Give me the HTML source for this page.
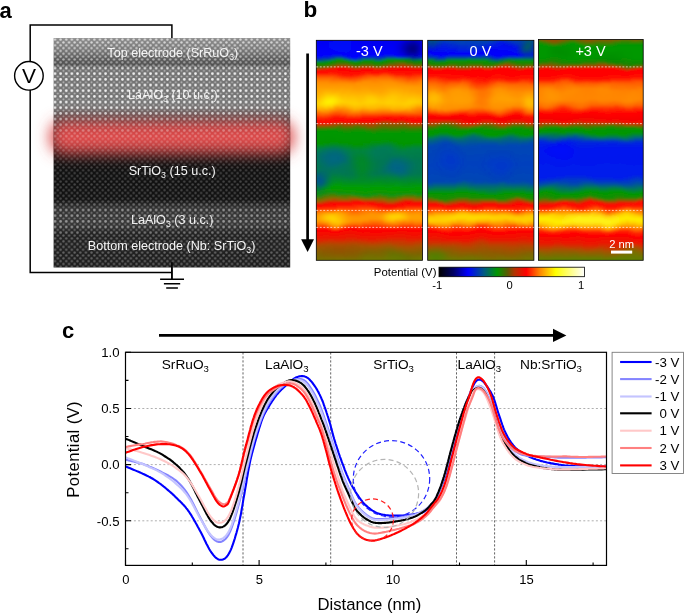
<!DOCTYPE html>
<html><head><meta charset="utf-8"><title>figure</title>
<style>
html,body{margin:0;padding:0;background:#fff;}
body{width:685px;height:615px;overflow:hidden;}
svg{display:block;font-family:"Liberation Sans",sans-serif;will-change:transform;}
</style></head><body>
<svg width="685" height="615" viewBox="0 0 685 615">
<defs>
<pattern id="dots" x="53.6" y="38.2" width="5.62" height="5.68" patternUnits="userSpaceOnUse">
  <circle cx="1.4" cy="1.4" r="1.35" fill="#fff"/>
  <circle cx="4.21" cy="4.24" r="1.0" fill="#fff" fill-opacity="0.55"/>
</pattern>
<pattern id="dots2" x="53.6" y="38.2" width="5.62" height="5.68" patternUnits="userSpaceOnUse">
  <circle cx="1.4" cy="1.4" r="1.2" fill="#fff"/>
  <circle cx="4.21" cy="4.24" r="1.2" fill="#fff"/>
</pattern>
<filter id="b1" x="-5%" y="-5%" width="110%" height="110%"><feGaussianBlur stdDeviation="0.7"/></filter>
<filter id="glow" x="-20%" y="-60%" width="140%" height="220%"><feGaussianBlur stdDeviation="7.5"/></filter>
<linearGradient id="tembg" x1="0" y1="38" x2="0" y2="268" gradientUnits="userSpaceOnUse">
  <stop offset="0" stop-color="#8e8e8e"/>
  <stop offset="0.05" stop-color="#787878"/>
  <stop offset="0.09" stop-color="#5c5c5c"/>
  <stop offset="0.115" stop-color="#505050"/>
  <stop offset="0.14" stop-color="#737373"/>
  <stop offset="0.30" stop-color="#767676"/>
  <stop offset="0.36" stop-color="#4a4444"/>
  <stop offset="0.50" stop-color="#1c1212"/>
  <stop offset="0.55" stop-color="#101010"/>
  <stop offset="0.70" stop-color="#121212"/>
  <stop offset="0.735" stop-color="#303030"/>
  <stop offset="0.80" stop-color="#3a3a3a"/>
  <stop offset="0.85" stop-color="#222222"/>
  <stop offset="1" stop-color="#1e1e1e"/>
</linearGradient>
<linearGradient id="dotmask" x1="0" y1="38" x2="0" y2="268" gradientUnits="userSpaceOnUse">
  <stop offset="0" stop-color="#fff" stop-opacity="0.0"/>
  <stop offset="0.115" stop-color="#fff" stop-opacity="0.0"/>
  <stop offset="0.135" stop-color="#fff" stop-opacity="0.9"/>
  <stop offset="0.30" stop-color="#fff" stop-opacity="0.9"/>
  <stop offset="0.35" stop-color="#fff" stop-opacity="0.55"/>
  <stop offset="0.40" stop-color="#fff" stop-opacity="0.2"/>
  <stop offset="0.46" stop-color="#fff" stop-opacity="0.0"/>
  <stop offset="0.71" stop-color="#fff" stop-opacity="0.0"/>
  <stop offset="0.745" stop-color="#fff" stop-opacity="0.42"/>
  <stop offset="0.83" stop-color="#fff" stop-opacity="0.42"/>
  <stop offset="0.865" stop-color="#fff" stop-opacity="0.0"/>
  <stop offset="1" stop-color="#fff" stop-opacity="0.0"/>
</linearGradient>
<linearGradient id="dotmask2" x1="0" y1="38" x2="0" y2="268" gradientUnits="userSpaceOnUse">
  <stop offset="0" stop-color="#fff" stop-opacity="0.7"/>
  <stop offset="0.09" stop-color="#fff" stop-opacity="0.55"/>
  <stop offset="0.125" stop-color="#fff" stop-opacity="0.35"/>
  <stop offset="0.14" stop-color="#fff" stop-opacity="0"/>
  <stop offset="0.33" stop-color="#fff" stop-opacity="0"/>
  <stop offset="0.42" stop-color="#fff" stop-opacity="0.22"/>
  <stop offset="0.55" stop-color="#fff" stop-opacity="0.21"/>
  <stop offset="0.71" stop-color="#fff" stop-opacity="0.24"/>
  <stop offset="0.745" stop-color="#fff" stop-opacity="0.12"/>
  <stop offset="0.83" stop-color="#fff" stop-opacity="0.12"/>
  <stop offset="0.865" stop-color="#fff" stop-opacity="0.32"/>
  <stop offset="1" stop-color="#fff" stop-opacity="0.30"/>
</linearGradient>
<mask id="mk1" maskUnits="userSpaceOnUse" x="53" y="37" width="238" height="232"><rect x="53" y="37" width="238" height="232" fill="url(#dotmask)"/></mask>
<mask id="mk2" maskUnits="userSpaceOnUse" x="53" y="37" width="238" height="232"><rect x="53" y="37" width="238" height="232" fill="url(#dotmask2)"/></mask>
<linearGradient id="cbar" x1="0" y1="0" x2="1" y2="0">
  <stop offset="0" stop-color="#000000"/>
  <stop offset="0.10" stop-color="#000064"/>
  <stop offset="0.20" stop-color="#0000ff"/>
  <stop offset="0.31" stop-color="#005a82"/>
  <stop offset="0.40" stop-color="#009600"/>
  <stop offset="0.47" stop-color="#5a5a00"/>
  <stop offset="0.52" stop-color="#b43200"/>
  <stop offset="0.60" stop-color="#ff0000"/>
  <stop offset="0.69" stop-color="#ff8200"/>
  <stop offset="0.80" stop-color="#ffff00"/>
  <stop offset="1" stop-color="#ffffff"/>
</linearGradient>

<linearGradient id="g1" x1="0" y1="40" x2="0" y2="260" gradientUnits="userSpaceOnUse"><stop offset="0.0000" stop-color="#0000f0"/><stop offset="0.0727" stop-color="#0000ff"/><stop offset="0.0841" stop-color="#004696"/><stop offset="0.0932" stop-color="#009800"/><stop offset="0.1068" stop-color="#1e8200"/><stop offset="0.1218" stop-color="#965000"/><stop offset="0.1332" stop-color="#ff0000"/><stop offset="0.1523" stop-color="#ff1400"/><stop offset="0.1682" stop-color="#ff5a00"/><stop offset="0.1909" stop-color="#ff8c00"/><stop offset="0.2273" stop-color="#ffa500"/><stop offset="0.2591" stop-color="#ffb900"/><stop offset="0.2864" stop-color="#ffc800"/><stop offset="0.3091" stop-color="#ffaa00"/><stop offset="0.3318" stop-color="#ff6400"/><stop offset="0.3523" stop-color="#ff1400"/><stop offset="0.3727" stop-color="#ff0000"/><stop offset="0.3841" stop-color="#aa4600"/><stop offset="0.4000" stop-color="#467800"/><stop offset="0.4136" stop-color="#009800"/><stop offset="0.4682" stop-color="#009600"/><stop offset="0.5000" stop-color="#008246"/><stop offset="0.5455" stop-color="#007850"/><stop offset="0.6091" stop-color="#007850"/><stop offset="0.6455" stop-color="#008c28"/><stop offset="0.6727" stop-color="#00a000"/><stop offset="0.7045" stop-color="#14910a"/><stop offset="0.7250" stop-color="#966400"/><stop offset="0.7409" stop-color="#ff0000"/><stop offset="0.7636" stop-color="#ff3200"/><stop offset="0.7818" stop-color="#ff7800"/><stop offset="0.8000" stop-color="#ff9600"/><stop offset="0.8227" stop-color="#ff9600"/><stop offset="0.8409" stop-color="#ff6400"/><stop offset="0.8591" stop-color="#ff0000"/><stop offset="0.9000" stop-color="#e61e00"/><stop offset="0.9364" stop-color="#aa5000"/><stop offset="0.9727" stop-color="#7d6400"/><stop offset="1.0000" stop-color="#6e7800"/></linearGradient>
<linearGradient id="g2" x1="0" y1="40" x2="0" y2="260" gradientUnits="userSpaceOnUse"><stop offset="0.0000" stop-color="#003cb4"/><stop offset="0.0227" stop-color="#0014e6"/><stop offset="0.0682" stop-color="#0000ff"/><stop offset="0.0818" stop-color="#00508c"/><stop offset="0.0932" stop-color="#009800"/><stop offset="0.1091" stop-color="#1e8200"/><stop offset="0.1218" stop-color="#965000"/><stop offset="0.1332" stop-color="#ff0000"/><stop offset="0.1727" stop-color="#ff0a00"/><stop offset="0.2000" stop-color="#ff6400"/><stop offset="0.2364" stop-color="#ff8c00"/><stop offset="0.2727" stop-color="#ff9b00"/><stop offset="0.3091" stop-color="#ff8c00"/><stop offset="0.3273" stop-color="#ff5000"/><stop offset="0.3455" stop-color="#ff0000"/><stop offset="0.3727" stop-color="#f00a00"/><stop offset="0.3841" stop-color="#aa4600"/><stop offset="0.3955" stop-color="#3c7800"/><stop offset="0.4068" stop-color="#009800"/><stop offset="0.4273" stop-color="#009600"/><stop offset="0.4455" stop-color="#006e6e"/><stop offset="0.4773" stop-color="#0046b4"/><stop offset="0.5682" stop-color="#0041be"/><stop offset="0.6455" stop-color="#0046b4"/><stop offset="0.6727" stop-color="#00785a"/><stop offset="0.6955" stop-color="#009800"/><stop offset="0.7205" stop-color="#1e8c00"/><stop offset="0.7341" stop-color="#aa4600"/><stop offset="0.7455" stop-color="#ff0000"/><stop offset="0.7682" stop-color="#ff3200"/><stop offset="0.7818" stop-color="#ff8200"/><stop offset="0.8000" stop-color="#ffc800"/><stop offset="0.8182" stop-color="#ffd200"/><stop offset="0.8364" stop-color="#ffa000"/><stop offset="0.8523" stop-color="#ff3c00"/><stop offset="0.8682" stop-color="#ff0000"/><stop offset="0.9045" stop-color="#f01400"/><stop offset="0.9364" stop-color="#b44600"/><stop offset="0.9727" stop-color="#826400"/><stop offset="1.0000" stop-color="#6e7800"/></linearGradient>
<linearGradient id="g3" x1="0" y1="39" x2="0" y2="260" gradientUnits="userSpaceOnUse"><stop offset="0.0000" stop-color="#965000"/><stop offset="0.0181" stop-color="#1e8c00"/><stop offset="0.0317" stop-color="#009800"/><stop offset="0.0860" stop-color="#009800"/><stop offset="0.1109" stop-color="#1e8200"/><stop offset="0.1258" stop-color="#965000"/><stop offset="0.1380" stop-color="#ff0000"/><stop offset="0.1765" stop-color="#ff0a00"/><stop offset="0.1991" stop-color="#ff5a00"/><stop offset="0.2308" stop-color="#ff8200"/><stop offset="0.2760" stop-color="#ff8700"/><stop offset="0.3032" stop-color="#ff6400"/><stop offset="0.3213" stop-color="#ff2800"/><stop offset="0.3394" stop-color="#ff0000"/><stop offset="0.3733" stop-color="#f00a00"/><stop offset="0.3846" stop-color="#aa4600"/><stop offset="0.3959" stop-color="#3c7800"/><stop offset="0.4072" stop-color="#009800"/><stop offset="0.4253" stop-color="#009600"/><stop offset="0.4434" stop-color="#006e6e"/><stop offset="0.4661" stop-color="#0028dc"/><stop offset="0.5023" stop-color="#0014f0"/><stop offset="0.6199" stop-color="#001eeb"/><stop offset="0.6516" stop-color="#0046b4"/><stop offset="0.6742" stop-color="#00785a"/><stop offset="0.6946" stop-color="#009800"/><stop offset="0.7195" stop-color="#1e8c00"/><stop offset="0.7330" stop-color="#aa4600"/><stop offset="0.7443" stop-color="#ff0000"/><stop offset="0.7647" stop-color="#ff1e00"/><stop offset="0.7805" stop-color="#ff7800"/><stop offset="0.7986" stop-color="#ffd200"/><stop offset="0.8190" stop-color="#fff000"/><stop offset="0.8371" stop-color="#ffd200"/><stop offset="0.8552" stop-color="#ff8c00"/><stop offset="0.8733" stop-color="#ff1e00"/><stop offset="0.8914" stop-color="#ff0000"/><stop offset="0.9276" stop-color="#e61e00"/><stop offset="0.9548" stop-color="#aa5000"/><stop offset="0.9819" stop-color="#786e00"/><stop offset="1.0000" stop-color="#5a8200"/></linearGradient>
<filter id="wav" x="0" y="0" width="100%" height="100%" filterUnits="objectBoundingBox">
<feTurbulence type="fractalNoise" baseFrequency="0.055 0.07" numOctaves="1" seed="3" result="n"/>
<feDisplacementMap in="SourceGraphic" in2="n" scale="8" xChannelSelector="R" yChannelSelector="G" result="d"/><feGaussianBlur in="d" stdDeviation="0.9"/>
</filter>
<filter id="bl4" x="-50%" y="-50%" width="200%" height="200%"><feGaussianBlur stdDeviation="4"/></filter>
<filter id="bl6" x="-50%" y="-50%" width="200%" height="200%"><feGaussianBlur stdDeviation="6"/></filter>
<clipPath id="c1"><rect x="316.3" y="40.3" width="106.2" height="220"/></clipPath>
<clipPath id="c2"><rect x="427.7" y="40.3" width="106.2" height="220"/></clipPath>
<clipPath id="c3"><rect x="538.4" y="39.4" width="104.8" height="220.9"/></clipPath>
<clipPath id="cplot"><rect x="125.5" y="352.3" width="481" height="213.1"/></clipPath>
<clipPath id="ctem"><rect x="53.6" y="38.0" width="236.6" height="229.6"/></clipPath>
</defs>
<rect x="0" y="0" width="685" height="615" fill="#fff"/>
<path d="M171.9 40 V25 H30.2 V272.6 H171.9 M171.9 262 V279.2" fill="none" stroke="#000" stroke-width="1.5"/>
<path d="M160.1 279.2 H184 M163.9 283.8 H180.2 M166.2 287.9 H177.9" fill="none" stroke="#000" stroke-width="1.5"/>
<rect x="50" y="121" width="244" height="32" rx="13" fill="#dc4a4a" filter="url(#glow)"/>
<g clip-path="url(#ctem)">
<rect x="53" y="37" width="238" height="232" fill="url(#tembg)"/>
<rect x="50" y="121" width="244" height="32" rx="13" fill="#dc4a4a" filter="url(#glow)"/>
<g filter="url(#b1)"><rect x="50" y="34" width="244" height="238" fill="url(#dots)" mask="url(#mk1)"/>
<rect x="50" y="34" width="244" height="238" fill="url(#dots2)" mask="url(#mk2)"/></g>
</g>
<path d="M53.6 66.2 H290.2" stroke="#fff" stroke-width="0.8" stroke-dasharray="2 2" stroke-opacity="0.45" fill="none"/>
<path d="M171.9 262.3 V279.2" fill="none" stroke="#000" stroke-width="1.5"/>
<circle cx="28.9" cy="75.8" r="14.3" fill="#fff" stroke="#000" stroke-width="1.4"/>
<text x="28.9" y="83.3" font-size="21" text-anchor="middle" fill="#000">V</text>
<text x="172.8" y="57.1" font-size="12.6" text-anchor="middle" fill="#fff" fill-opacity="0.9">Top electrode (SrRuO<tspan font-size="8.82" dy="2.898">3</tspan><tspan dy="-2.898">)</tspan></text>
<text x="172.8" y="98.7" font-size="12.6" text-anchor="middle" fill="#fff" fill-opacity="0.85">LaAlO<tspan font-size="8.82" dy="2.898">3</tspan><tspan dy="-2.898"> (10 u.c.)</tspan></text>
<text x="172.2" y="175" font-size="12.6" text-anchor="middle" fill="#fff" fill-opacity="0.95">SrTiO<tspan font-size="8.82" dy="2.898">3</tspan><tspan dy="-2.898"> (15 u.c.)</tspan></text>
<text x="172.2" y="224.3" font-size="12.6" text-anchor="middle" fill="#fff" fill-opacity="0.9">LaAlO<tspan font-size="8.82" dy="2.898">3</tspan><tspan dy="-2.898"> (3 u.c.)</tspan></text>
<text x="171.6" y="249.8" font-size="12.6" text-anchor="middle" fill="#fff" fill-opacity="0.95">Bottom electrode (Nb: SrTiO<tspan font-size="8.82" dy="2.898">3</tspan><tspan dy="-2.898">)</tspan></text>
<text x="-0.4" y="17.7" font-size="22" font-weight="bold" fill="#000">a</text>
<text x="303.4" y="17.4" font-size="22.5" font-weight="bold" fill="#000">b</text>
<text x="62" y="338.4" font-size="22" font-weight="bold" fill="#000">c</text>
<path d="M307.6 53.5 V241" stroke="#000" stroke-width="2.7" fill="none"/><path d="M301.1 239.3 H314 L307.6 252 Z" fill="#000"/>
<g clip-path="url(#c1)">
<g filter="url(#wav)"><rect x="304.3" y="28.3" width="130.2" height="244" fill="url(#g1)"/>
<ellipse cx="330" cy="103" rx="11" ry="7" fill="#ffff00" fill-opacity="0.85" filter="url(#bl4)"/>
<ellipse cx="351" cy="101" rx="7" ry="6" fill="#ffe600" fill-opacity="0.5" filter="url(#bl4)"/>
<ellipse cx="371" cy="103" rx="8" ry="6" fill="#ffe600" fill-opacity="0.6" filter="url(#bl4)"/>
<ellipse cx="392" cy="101" rx="7" ry="6" fill="#ffe600" fill-opacity="0.5" filter="url(#bl4)"/>
<ellipse cx="411" cy="103" rx="7" ry="6" fill="#ffe600" fill-opacity="0.5" filter="url(#bl4)"/>
<ellipse cx="412" cy="49" rx="10" ry="8" fill="#000078" fill-opacity="1" filter="url(#bl4)"/>
<ellipse cx="340" cy="46" rx="14" ry="4" fill="#0028ff" fill-opacity="0.5" filter="url(#bl4)"/>
<ellipse cx="360" cy="74" rx="10" ry="4" fill="#ff0000" fill-opacity="0.5" filter="url(#bl4)"/>
<ellipse cx="414" cy="76" rx="8" ry="5" fill="#ff0000" fill-opacity="0.5" filter="url(#bl4)"/>
<ellipse cx="320" cy="181" rx="6" ry="9" fill="#0046aa" fill-opacity="1" filter="url(#bl4)"/>
<ellipse cx="334" cy="158" rx="14" ry="10" fill="#005f91" fill-opacity="0.75" filter="url(#bl4)"/>
<ellipse cx="398" cy="168" rx="14" ry="9" fill="#005f91" fill-opacity="0.85" filter="url(#bl4)"/>
<ellipse cx="362" cy="166" rx="9" ry="14" fill="#009600" fill-opacity="0.5" filter="url(#bl4)"/>
<ellipse cx="380" cy="150" rx="12" ry="5" fill="#006e78" fill-opacity="0.5" filter="url(#bl4)"/>
<ellipse cx="333" cy="218.5" rx="12" ry="4.5" fill="#fff000" fill-opacity="1" filter="url(#bl4)"/>
<ellipse cx="396" cy="217.5" rx="12" ry="4.5" fill="#fff000" fill-opacity="1" filter="url(#bl4)"/>
<ellipse cx="418" cy="214" rx="6" ry="3" fill="#ffdc00" fill-opacity="0.6" filter="url(#bl4)"/>
<ellipse cx="340" cy="252" rx="20" ry="5" fill="#aa3c00" fill-opacity="0.5" filter="url(#bl4)"/>
<ellipse cx="400" cy="255" rx="12" ry="5" fill="#4b8200" fill-opacity="0.5" filter="url(#bl4)"/>
</g></g>
<rect x="316.3" y="40.3" width="106.2" height="220" fill="none" stroke="#000" stroke-width="0.8"/>
<g clip-path="url(#c2)">
<g filter="url(#wav)"><rect x="415.7" y="28.3" width="130.2" height="244" fill="url(#g2)"/>
<ellipse cx="432" cy="44" rx="6" ry="4" fill="#009600" fill-opacity="0.8" filter="url(#bl4)"/>
<ellipse cx="529" cy="47" rx="5" ry="7" fill="#009600" fill-opacity="0.9" filter="url(#bl4)"/>
<ellipse cx="470" cy="44" rx="30" ry="3" fill="#00649b" fill-opacity="0.7" filter="url(#bl4)"/>
<ellipse cx="437" cy="52" rx="7" ry="5" fill="#0000ff" fill-opacity="0.8" filter="url(#bl4)"/>
<ellipse cx="502" cy="53" rx="12" ry="5" fill="#0000ff" fill-opacity="0.8" filter="url(#bl4)"/>
<ellipse cx="480" cy="80" rx="14" ry="5" fill="#ff0000" fill-opacity="0.7" filter="url(#bl4)"/>
<ellipse cx="482" cy="96" rx="6" ry="14" fill="#ff5000" fill-opacity="0.5" filter="url(#bl4)"/>
<ellipse cx="434" cy="98" rx="8" ry="9" fill="#ffc800" fill-opacity="0.85" filter="url(#bl4)"/>
<ellipse cx="530" cy="104" rx="6" ry="9" fill="#ffd200" fill-opacity="0.85" filter="url(#bl4)"/>
<ellipse cx="460" cy="95" rx="10" ry="7" fill="#ffaa00" fill-opacity="0.5" filter="url(#bl4)"/>
<ellipse cx="505" cy="98" rx="10" ry="7" fill="#ffaa00" fill-opacity="0.5" filter="url(#bl4)"/>
<ellipse cx="470" cy="218" rx="25" ry="4" fill="#ffe600" fill-opacity="0.6" filter="url(#bl4)"/>
<ellipse cx="450" cy="160" rx="10" ry="12" fill="#0028dc" fill-opacity="0.4" filter="url(#bl4)"/>
<ellipse cx="500" cy="165" rx="12" ry="10" fill="#0028dc" fill-opacity="0.4" filter="url(#bl4)"/>
<ellipse cx="436" cy="256" rx="8" ry="6" fill="#3c8c00" fill-opacity="0.8" filter="url(#bl4)"/>
<ellipse cx="500" cy="254" rx="20" ry="5" fill="#aa4600" fill-opacity="0.4" filter="url(#bl4)"/>
</g></g>
<rect x="427.7" y="40.3" width="106.2" height="220" fill="none" stroke="#000" stroke-width="0.8"/>
<g clip-path="url(#c3)">
<g filter="url(#wav)"><rect x="526.4" y="27.4" width="128.8" height="244.9" fill="url(#g3)"/>
<ellipse cx="575" cy="39.5" rx="38" ry="2.2" fill="#a04600" fill-opacity="0.9" filter="url(#bl4)"/>
<ellipse cx="560" cy="52" rx="12" ry="5" fill="#008200" fill-opacity="0.6" filter="url(#bl4)"/>
<ellipse cx="610" cy="58" rx="14" ry="4" fill="#008200" fill-opacity="0.6" filter="url(#bl4)"/>
<ellipse cx="552" cy="96" rx="10" ry="6" fill="#ffa000" fill-opacity="0.7" filter="url(#bl4)"/>
<ellipse cx="570" cy="90" rx="8" ry="5" fill="#ffa000" fill-opacity="0.5" filter="url(#bl4)"/>
<ellipse cx="606" cy="90" rx="10" ry="5" fill="#ff9600" fill-opacity="0.5" filter="url(#bl4)"/>
<ellipse cx="630" cy="96" rx="8" ry="6" fill="#ff9600" fill-opacity="0.4" filter="url(#bl4)"/>
<ellipse cx="560" cy="150" rx="14" ry="10" fill="#0000ff" fill-opacity="0.6" filter="url(#bl4)"/>
<ellipse cx="590" cy="220" rx="30" ry="4" fill="#ffff3c" fill-opacity="0.6" filter="url(#bl4)"/>
<ellipse cx="630" cy="256" rx="12" ry="5" fill="#5a8200" fill-opacity="0.6" filter="url(#bl4)"/>
</g></g>
<rect x="538.4" y="39.4" width="104.8" height="220.9" fill="none" stroke="#000" stroke-width="0.8"/>
<path d="M316.3 66.9 h106.2" stroke="#fff" stroke-width="0.75" stroke-dasharray="1.9 1.6" fill="none" stroke-opacity="0.9"/>
<path d="M316.3 123.6 h106.2" stroke="#fff" stroke-width="0.75" stroke-dasharray="1.9 1.6" fill="none" stroke-opacity="0.9"/>
<path d="M316.3 210.4 h106.2" stroke="#fff" stroke-width="0.75" stroke-dasharray="1.9 1.6" fill="none" stroke-opacity="0.9"/>
<path d="M316.3 227.4 h106.2" stroke="#fff" stroke-width="0.75" stroke-dasharray="1.9 1.6" fill="none" stroke-opacity="0.9"/>
<path d="M427.7 66.9 h106.2" stroke="#fff" stroke-width="0.75" stroke-dasharray="1.9 1.6" fill="none" stroke-opacity="0.9"/>
<path d="M427.7 123.6 h106.2" stroke="#fff" stroke-width="0.75" stroke-dasharray="1.9 1.6" fill="none" stroke-opacity="0.9"/>
<path d="M427.7 210.4 h106.2" stroke="#fff" stroke-width="0.75" stroke-dasharray="1.9 1.6" fill="none" stroke-opacity="0.9"/>
<path d="M427.7 227.4 h106.2" stroke="#fff" stroke-width="0.75" stroke-dasharray="1.9 1.6" fill="none" stroke-opacity="0.9"/>
<path d="M538.4 66.9 h104.8" stroke="#fff" stroke-width="0.75" stroke-dasharray="1.9 1.6" fill="none" stroke-opacity="0.9"/>
<path d="M538.4 123.6 h104.8" stroke="#fff" stroke-width="0.75" stroke-dasharray="1.9 1.6" fill="none" stroke-opacity="0.9"/>
<path d="M538.4 210.4 h104.8" stroke="#fff" stroke-width="0.75" stroke-dasharray="1.9 1.6" fill="none" stroke-opacity="0.9"/>
<path d="M538.4 227.4 h104.8" stroke="#fff" stroke-width="0.75" stroke-dasharray="1.9 1.6" fill="none" stroke-opacity="0.9"/>
<text x="369.3" y="56.3" font-size="14.5" text-anchor="middle" fill="#fff">-3 V</text>
<text x="480.5" y="56.3" font-size="14.5" text-anchor="middle" fill="#fff">0 V</text>
<text x="590.5" y="56.3" font-size="14.5" text-anchor="middle" fill="#fff">+3 V</text>
<text x="621.6" y="248" font-size="11.2" text-anchor="middle" fill="#fff">2 nm</text>
<rect x="611" y="250.6" width="21.2" height="3" fill="#fff"/>
<rect x="439" y="267.2" width="145.6" height="9.5" fill="url(#cbar)" stroke="#000" stroke-width="0.8"/>
<text x="436.5" y="275.8" font-size="11.4" text-anchor="end" fill="#000">Potential (V)</text>
<text x="437.3" y="289" font-size="11.2" text-anchor="middle" fill="#000">-1</text>
<text x="509.6" y="289" font-size="11.2" text-anchor="middle" fill="#000">0</text>
<text x="581" y="289" font-size="11.2" text-anchor="middle" fill="#000">1</text>
<path d="M159 335.4 H554" stroke="#000" stroke-width="2.7" fill="none"/><path d="M553 328.8 V342 L566.4 335.4 Z" fill="#000"/>
<path d="M125.5 408.5 H606.5" stroke="#9a9a9a" stroke-width="0.8" stroke-dasharray="2 2.2" fill="none"/>
<path d="M125.5 464.6 H606.5" stroke="#9a9a9a" stroke-width="0.8" stroke-dasharray="2 2.2" fill="none"/>
<path d="M125.5 520.8 H606.5" stroke="#9a9a9a" stroke-width="0.8" stroke-dasharray="2 2.2" fill="none"/>
<path d="M243 352.3 V565.4" stroke="#3a3a3a" stroke-width="0.8" stroke-dasharray="2.2 1.8" fill="none"/>
<path d="M330.7 352.3 V565.4" stroke="#3a3a3a" stroke-width="0.8" stroke-dasharray="2.2 1.8" fill="none"/>
<path d="M456.5 352.3 V565.4" stroke="#3a3a3a" stroke-width="0.8" stroke-dasharray="2.2 1.8" fill="none"/>
<path d="M494.6 352.3 V565.4" stroke="#3a3a3a" stroke-width="0.8" stroke-dasharray="2.2 1.8" fill="none"/>
<g clip-path="url(#cplot)" fill="none" stroke-width="2.1" stroke-linejoin="round">
<path d="M125.5 466.4 L126.4 466.8 L127.5 467.2 L128.7 467.7 L130.2 468.3 L131.8 469.0 L133.4 469.7 L135.1 470.4 L136.8 471.1 L138.5 471.8 L140.1 472.5 L141.5 473.1 L142.8 473.7 L144.0 474.2 L145.0 474.7 L146.0 475.2 L147.0 475.7 L147.9 476.1 L148.8 476.6 L149.7 477.0 L150.5 477.5 L151.4 478.0 L152.3 478.5 L153.2 479.0 L154.1 479.6 L155.0 480.2 L156.0 480.8 L156.9 481.5 L157.9 482.1 L158.8 482.8 L159.8 483.5 L160.7 484.2 L161.7 485.0 L162.6 485.7 L163.6 486.5 L164.5 487.2 L165.5 488.0 L166.4 488.8 L167.4 489.6 L168.3 490.4 L169.3 491.2 L170.2 492.0 L171.2 492.9 L172.2 493.8 L173.1 494.6 L174.1 495.5 L175.0 496.4 L176.0 497.4 L176.9 498.3 L177.8 499.2 L178.8 500.2 L179.8 501.1 L180.7 502.0 L181.7 503.0 L182.6 504.0 L183.6 505.0 L184.5 506.0 L185.5 507.1 L186.4 508.3 L187.4 509.5 L188.3 510.8 L189.3 512.2 L190.2 513.6 L191.2 515.1 L192.1 516.7 L193.1 518.3 L194.0 519.9 L195.0 521.6 L195.9 523.3 L196.9 525.0 L197.8 526.8 L198.8 528.5 L199.7 530.2 L200.7 532.0 L201.6 533.8 L202.6 535.8 L203.6 537.7 L204.5 539.7 L205.5 541.7 L206.4 543.7 L207.4 545.5 L208.3 547.3 L209.2 549.0 L210.1 550.5 L211.0 551.8 L211.8 553.0 L212.7 554.1 L213.4 555.1 L214.2 556.0 L215.0 556.9 L215.7 557.6 L216.5 558.2 L217.2 558.7 L218.0 559.2 L218.7 559.5 L219.4 559.7 L220.2 559.8 L221.0 559.8 L221.7 559.7 L222.5 559.6 L223.2 559.4 L224.0 559.0 L224.8 558.6 L225.5 558.0 L226.3 557.3 L227.0 556.4 L227.8 555.4 L228.5 554.2 L229.3 552.9 L230.1 551.3 L230.9 549.6 L231.7 547.6 L232.5 545.4 L233.3 543.1 L234.1 540.7 L234.9 538.2 L235.6 535.6 L236.4 533.1 L237.1 530.5 L237.8 528.0 L238.4 525.6 L239.0 523.2 L239.5 520.8 L240.0 518.4 L240.5 516.0 L241.0 513.6 L241.4 511.1 L241.8 508.6 L242.3 506.1 L242.7 503.6 L243.1 501.1 L243.5 498.6 L244.0 496.0 L244.5 493.4 L244.9 490.7 L245.4 487.9 L245.9 485.0 L246.4 482.2 L246.8 479.4 L247.3 476.6 L247.8 473.8 L248.2 471.2 L248.7 468.6 L249.2 466.2 L249.6 464.0 L250.0 462.0 L250.4 460.1 L250.8 458.4 L251.2 456.8 L251.6 455.2 L251.9 453.8 L252.3 452.4 L252.7 450.9 L253.1 449.4 L253.5 447.9 L254.0 446.3 L254.5 444.5 L255.0 442.6 L255.6 440.5 L256.2 438.4 L256.9 436.2 L257.5 434.0 L258.2 431.7 L258.9 429.5 L259.5 427.3 L260.2 425.3 L260.8 423.3 L261.4 421.5 L262.0 419.9 L262.5 418.5 L263.0 417.2 L263.5 416.1 L263.9 415.1 L264.4 414.2 L264.8 413.4 L265.2 412.6 L265.7 411.8 L266.1 411.0 L266.6 410.1 L267.2 409.2 L267.8 408.2 L268.5 407.1 L269.2 405.9 L269.9 404.8 L270.7 403.5 L271.5 402.3 L272.3 401.0 L273.1 399.8 L273.9 398.6 L274.8 397.4 L275.6 396.3 L276.4 395.2 L277.2 394.2 L278.0 393.3 L278.8 392.3 L279.6 391.5 L280.3 390.7 L281.1 389.9 L281.9 389.1 L282.7 388.4 L283.5 387.6 L284.3 386.9 L285.0 386.2 L285.8 385.6 L286.5 384.9 L287.2 384.2 L287.9 383.6 L288.6 382.9 L289.3 382.3 L290.0 381.7 L290.7 381.1 L291.4 380.5 L292.1 380.0 L292.7 379.5 L293.4 379.0 L294.0 378.6 L294.7 378.2 L295.4 377.8 L296.0 377.5 L296.7 377.2 L297.3 377.0 L298.0 376.8 L298.6 376.6 L299.2 376.4 L299.9 376.3 L300.5 376.2 L301.1 376.1 L301.7 376.1 L302.3 376.1 L302.9 376.1 L303.4 376.2 L304.0 376.3 L304.5 376.4 L305.0 376.6 L305.5 376.8 L306.1 377.0 L306.6 377.3 L307.1 377.6 L307.6 377.9 L308.1 378.3 L308.7 378.8 L309.3 379.3 L309.9 379.9 L310.4 380.5 L311.1 381.2 L311.7 381.9 L312.3 382.7 L312.9 383.5 L313.5 384.3 L314.1 385.1 L314.6 385.9 L315.2 386.7 L315.7 387.5 L316.2 388.3 L316.7 389.1 L317.2 389.9 L317.6 390.7 L318.1 391.5 L318.5 392.4 L319.0 393.2 L319.4 394.1 L319.8 394.9 L320.2 395.8 L320.6 396.6 L321.0 397.5 L321.4 398.4 L321.7 399.2 L322.1 400.0 L322.4 400.8 L322.8 401.7 L323.1 402.5 L323.4 403.4 L323.7 404.3 L324.0 405.2 L324.4 406.1 L324.7 407.1 L325.1 408.2 L325.5 409.3 L325.9 410.5 L326.3 411.7 L326.7 413.0 L327.1 414.2 L327.5 415.5 L328.0 416.9 L328.4 418.2 L328.8 419.6 L329.2 420.9 L329.6 422.2 L330.0 423.5 L330.4 424.8 L330.7 426.0 L331.0 427.2 L331.3 428.4 L331.7 429.6 L332.0 430.9 L332.3 432.1 L332.6 433.4 L333.0 434.7 L333.3 436.1 L333.8 437.5 L334.2 439.0 L334.7 440.6 L335.2 442.2 L335.7 444.0 L336.3 445.7 L336.9 447.5 L337.5 449.4 L338.1 451.2 L338.7 453.1 L339.4 455.0 L340.0 456.8 L340.7 458.6 L341.3 460.4 L341.9 462.2 L342.6 463.9 L343.3 465.7 L344.0 467.5 L344.6 469.3 L345.3 471.1 L346.0 472.8 L346.7 474.6 L347.4 476.2 L348.1 477.9 L348.8 479.4 L349.5 480.9 L350.2 482.3 L350.9 483.7 L351.6 485.0 L352.2 486.3 L352.9 487.5 L353.6 488.7 L354.3 489.8 L355.0 491.0 L355.6 492.1 L356.3 493.1 L357.0 494.2 L357.7 495.2 L358.4 496.2 L359.0 497.2 L359.7 498.1 L360.4 499.0 L361.0 499.9 L361.7 500.7 L362.3 501.6 L363.0 502.4 L363.7 503.2 L364.4 503.9 L365.1 504.7 L365.9 505.4 L366.7 506.1 L367.5 506.8 L368.3 507.5 L369.2 508.2 L370.0 508.8 L370.9 509.5 L371.7 510.1 L372.6 510.7 L373.5 511.2 L374.4 511.7 L375.2 512.2 L376.1 512.6 L377.0 513.0 L377.8 513.3 L378.7 513.6 L379.5 513.9 L380.4 514.1 L381.2 514.3 L382.1 514.5 L382.9 514.7 L383.8 514.8 L384.6 514.9 L385.5 515.1 L386.3 515.2 L387.2 515.3 L388.0 515.4 L388.9 515.5 L389.7 515.5 L390.6 515.6 L391.4 515.6 L392.2 515.6 L393.1 515.6 L393.9 515.6 L394.8 515.6 L395.6 515.6 L396.5 515.6 L397.3 515.6 L398.2 515.6 L399.0 515.6 L399.9 515.6 L400.7 515.6 L401.6 515.5 L402.4 515.5 L403.3 515.5 L404.1 515.4 L405.0 515.3 L405.8 515.3 L406.7 515.2 L407.6 515.1 L408.5 515.0 L409.4 514.9 L410.3 514.7 L411.2 514.6 L412.1 514.5 L413.0 514.3 L413.9 514.2 L414.7 514.0 L415.5 513.9 L416.3 513.7 L417.0 513.6 L417.7 513.5 L418.3 513.4 L418.8 513.3 L419.4 513.2 L419.9 513.1 L420.4 513.0 L420.8 512.9 L421.3 512.8 L421.7 512.7 L422.1 512.5 L422.6 512.4 L423.0 512.2 L423.4 512.0 L423.8 511.8 L424.2 511.5 L424.6 511.3 L425.0 511.0 L425.4 510.7 L425.7 510.4 L426.1 510.1 L426.4 509.8 L426.8 509.5 L427.1 509.1 L427.5 508.8 L427.9 508.5 L428.2 508.1 L428.6 507.7 L429.0 507.3 L429.3 506.9 L429.7 506.5 L430.0 506.1 L430.4 505.7 L430.7 505.3 L431.1 504.9 L431.4 504.4 L431.8 504.0 L432.2 503.6 L432.5 503.2 L432.9 502.8 L433.2 502.4 L433.5 502.0 L433.9 501.6 L434.2 501.1 L434.6 500.7 L434.9 500.2 L435.3 499.7 L435.6 499.1 L436.0 498.5 L436.4 497.8 L436.7 497.1 L437.1 496.3 L437.5 495.5 L437.9 494.7 L438.3 493.8 L438.6 492.9 L439.0 492.0 L439.4 491.1 L439.8 490.2 L440.1 489.4 L440.5 488.5 L440.9 487.6 L441.2 486.8 L441.6 485.9 L441.9 485.1 L442.2 484.2 L442.6 483.3 L442.9 482.4 L443.2 481.6 L443.6 480.7 L443.9 479.8 L444.2 478.9 L444.5 478.0 L444.8 477.1 L445.1 476.2 L445.4 475.4 L445.6 474.5 L445.9 473.6 L446.2 472.8 L446.4 471.9 L446.7 471.0 L446.9 470.0 L447.2 469.1 L447.5 468.0 L447.8 467.0 L448.1 465.9 L448.4 464.8 L448.7 463.6 L449.0 462.5 L449.3 461.3 L449.7 460.0 L450.0 458.8 L450.3 457.5 L450.6 456.2 L451.0 454.9 L451.3 453.6 L451.7 452.3 L452.1 450.9 L452.5 449.5 L452.9 448.1 L453.3 446.6 L453.7 445.1 L454.1 443.6 L454.5 442.1 L454.9 440.6 L455.3 439.2 L455.7 437.7 L456.1 436.3 L456.5 435.0 L456.9 433.7 L457.2 432.5 L457.6 431.2 L457.9 430.0 L458.2 428.9 L458.6 427.7 L458.9 426.6 L459.2 425.4 L459.5 424.3 L459.8 423.2 L460.2 422.1 L460.5 421.0 L460.8 419.9 L461.2 418.8 L461.5 417.8 L461.8 416.7 L462.1 415.7 L462.5 414.7 L462.8 413.6 L463.1 412.6 L463.5 411.6 L463.8 410.6 L464.1 409.5 L464.5 408.5 L464.9 407.5 L465.2 406.4 L465.6 405.3 L466.0 404.2 L466.4 403.2 L466.8 402.1 L467.1 401.0 L467.5 400.0 L467.9 398.9 L468.3 397.9 L468.6 397.0 L469.0 396.0 L469.4 395.1 L469.7 394.1 L470.1 393.2 L470.4 392.3 L470.8 391.4 L471.1 390.5 L471.4 389.7 L471.8 388.9 L472.1 388.1 L472.4 387.3 L472.7 386.6 L473.0 386.0 L473.3 385.4 L473.6 384.9 L473.8 384.4 L474.1 383.9 L474.3 383.5 L474.6 383.1 L474.8 382.7 L475.0 382.4 L475.3 382.1 L475.5 381.8 L475.7 381.5 L476.0 381.2 L476.3 380.9 L476.5 380.7 L476.8 380.5 L477.1 380.3 L477.3 380.2 L477.6 380.0 L477.9 379.9 L478.1 379.8 L478.4 379.7 L478.7 379.7 L478.9 379.6 L479.2 379.6 L479.5 379.6 L479.7 379.6 L480.0 379.6 L480.2 379.7 L480.5 379.7 L480.7 379.8 L481.0 379.9 L481.2 380.1 L481.5 380.2 L481.7 380.4 L482.0 380.6 L482.3 380.8 L482.6 381.0 L482.8 381.2 L483.1 381.5 L483.4 381.7 L483.6 382.0 L483.9 382.3 L484.2 382.6 L484.5 382.9 L484.8 383.4 L485.2 383.8 L485.6 384.4 L486.0 385.0 L486.5 385.7 L487.0 386.4 L487.5 387.2 L488.1 388.0 L488.7 388.9 L489.3 389.8 L490.0 390.8 L490.6 391.8 L491.2 392.9 L491.8 394.1 L492.4 395.3 L493.0 396.5 L493.5 397.8 L494.1 399.3 L494.6 400.8 L495.1 402.3 L495.6 404.0 L496.1 405.6 L496.6 407.3 L497.1 409.0 L497.6 410.7 L498.1 412.4 L498.7 414.0 L499.2 415.6 L499.7 417.2 L500.3 418.7 L500.8 420.3 L501.3 421.9 L501.9 423.5 L502.4 425.0 L503.0 426.6 L503.5 428.1 L504.1 429.6 L504.7 431.0 L505.4 432.4 L506.0 433.8 L506.7 435.1 L507.4 436.4 L508.1 437.7 L508.8 438.9 L509.5 440.1 L510.3 441.2 L511.0 442.4 L511.8 443.5 L512.6 444.5 L513.4 445.5 L514.3 446.5 L515.1 447.4 L516.0 448.3 L516.9 449.1 L517.8 449.9 L518.7 450.6 L519.7 451.3 L520.7 452.0 L521.6 452.6 L522.6 453.2 L523.6 453.8 L524.6 454.3 L525.5 454.9 L526.5 455.4 L527.5 455.9 L528.4 456.4 L529.4 456.8 L530.3 457.2 L531.2 457.6 L532.2 458.0 L533.1 458.4 L534.1 458.7 L535.0 459.0 L536.0 459.4 L537.0 459.7 L537.9 460.0 L538.8 460.3 L539.7 460.6 L540.6 460.9 L541.5 461.1 L542.4 461.3 L543.3 461.6 L544.2 461.8 L545.1 462.0 L546.1 462.2 L547.1 462.5 L548.2 462.7 L549.3 462.9 L550.5 463.1 L551.8 463.4 L553.1 463.6 L554.5 463.9 L555.9 464.1 L557.4 464.3 L558.8 464.6 L560.3 464.8 L561.7 465.0 L563.2 465.2 L564.5 465.4 L565.9 465.5 L567.2 465.6 L568.4 465.7 L569.6 465.8 L570.7 465.9 L571.8 465.9 L573.0 465.9 L574.1 466.0 L575.3 466.0 L576.6 466.0 L578.0 466.0 L579.5 466.1 L581.1 466.1 L582.9 466.1 L585.0 466.2 L587.3 466.2 L589.8 466.3 L592.2 466.3 L594.8 466.3 L597.2 466.4 L599.5 466.4 L601.7 466.4 L603.6 466.5 L605.2 466.5 L606.5 466.5" stroke="#0000ff"/>
<path d="M125.5 459.6 L127.1 460.0 L128.7 460.4 L130.3 460.8 L131.9 461.2 L133.5 461.6 L135.2 462.0 L136.8 462.4 L138.4 462.8 L140.0 463.2 L141.6 463.6 L143.2 464.1 L144.8 464.7 L146.4 465.4 L148.0 466.0 L149.6 466.7 L151.2 467.3 L152.8 468.0 L154.5 468.7 L156.1 469.4 L157.7 470.2 L159.3 471.0 L160.9 471.8 L162.5 472.6 L164.1 473.4 L165.7 474.2 L167.3 475.0 L168.9 476.0 L170.5 476.9 L172.2 477.9 L173.8 479.0 L175.4 480.2 L177.0 481.4 L178.6 482.9 L180.2 484.5 L181.8 486.2 L183.4 488.1 L185.0 490.2 L186.6 492.4 L188.2 494.8 L189.8 497.5 L191.5 500.4 L193.1 503.5 L194.7 506.7 L196.3 509.9 L197.9 513.1 L199.5 516.2 L201.1 519.2 L202.7 522.2 L204.3 525.2 L205.9 528.2 L207.5 531.0 L209.2 533.6 L210.8 535.9 L212.4 537.8 L214.0 539.4 L215.6 540.7 L217.2 541.6 L218.8 542.0 L220.4 541.9 L222.0 541.4 L223.6 540.5 L225.2 539.2 L226.8 537.3 L228.5 534.8 L230.1 531.6 L231.7 527.7 L233.3 523.0 L234.9 518.0 L236.5 512.6 L238.1 506.9 L239.7 500.9 L241.3 494.1 L242.9 486.7 L244.5 479.5 L246.2 472.6 L247.8 465.8 L249.4 458.9 L251.0 452.3 L252.6 446.0 L254.2 440.1 L255.8 434.8 L257.4 429.9 L259.0 425.3 L260.6 421.0 L262.2 416.9 L263.8 413.1 L265.5 409.7 L267.1 406.6 L268.7 403.8 L270.3 401.2 L271.9 398.9 L273.5 396.7 L275.1 394.7 L276.7 392.6 L278.3 390.8 L279.9 389.1 L281.5 387.6 L283.2 386.1 L284.8 384.7 L286.4 383.4 L288.0 382.2 L289.6 381.3 L291.2 380.6 L292.8 380.2 L294.4 379.7 L296.0 379.3 L297.6 379.0 L299.2 379.0 L300.8 379.1 L302.5 379.5 L304.1 380.3 L305.7 381.4 L307.3 383.2 L308.9 385.2 L310.5 387.5 L312.1 390.0 L313.7 392.7 L315.3 395.8 L316.9 399.1 L318.5 402.5 L320.2 406.2 L321.8 410.6 L323.4 414.9 L325.0 419.5 L326.6 424.3 L328.2 429.2 L329.8 434.2 L331.4 439.2 L333.0 444.3 L334.6 449.3 L336.2 454.4 L337.8 459.4 L339.5 464.5 L341.1 469.4 L342.7 474.0 L344.3 478.0 L345.9 481.8 L347.5 485.5 L349.1 489.4 L350.7 493.1 L352.3 496.8 L353.9 500.5 L355.5 503.4 L357.2 505.7 L358.8 507.7 L360.4 509.4 L362.0 511.1 L363.6 512.5 L365.2 513.9 L366.8 515.1 L368.4 516.2 L370.0 517.2 L371.6 517.9 L373.2 518.5 L374.8 518.8 L376.5 519.0 L378.1 519.1 L379.7 519.1 L381.3 519.1 L382.9 519.0 L384.5 518.9 L386.1 518.8 L387.7 518.7 L389.3 518.5 L390.9 518.3 L392.5 518.1 L394.2 517.9 L395.8 517.7 L397.4 517.5 L399.0 517.3 L400.6 517.1 L402.2 516.9 L403.8 516.7 L405.4 516.4 L407.0 516.1 L408.6 515.7 L410.2 515.3 L411.8 515.0 L413.5 514.7 L415.1 514.2 L416.7 513.8 L418.3 513.2 L419.9 512.5 L421.5 511.7 L423.1 510.8 L424.7 509.9 L426.3 508.9 L427.9 507.7 L429.5 506.2 L431.2 504.4 L432.8 502.8 L434.4 500.9 L436.0 498.2 L437.6 494.9 L439.2 491.2 L440.8 487.1 L442.4 482.6 L444.0 477.6 L445.6 472.2 L447.2 466.4 L448.8 460.2 L450.5 454.0 L452.1 447.9 L453.7 441.8 L455.3 435.9 L456.9 430.1 L458.5 424.5 L460.1 419.3 L461.7 414.5 L463.3 410.0 L464.9 405.6 L466.5 401.5 L468.2 397.7 L469.8 394.5 L471.4 391.8 L473.0 389.5 L474.6 388.0 L476.2 386.8 L477.8 386.0 L479.4 385.8 L481.0 386.2 L482.6 387.2 L484.2 388.6 L485.8 391.0 L487.5 394.1 L489.1 397.7 L490.7 401.5 L492.3 405.7 L493.9 410.3 L495.5 415.6 L497.1 420.8 L498.7 425.6 L500.3 429.6 L501.9 433.1 L503.5 436.1 L505.2 438.8 L506.8 441.3 L508.4 443.5 L510.0 445.6 L511.6 447.4 L513.2 449.1 L514.8 450.6 L516.4 451.8 L518.0 452.9 L519.6 453.8 L521.2 454.4 L522.8 454.9 L524.5 455.3 L526.1 455.6 L527.7 455.9 L529.3 456.0 L530.9 456.1 L532.5 456.2 L534.1 456.1 L535.7 456.2 L537.3 456.4 L538.9 456.5 L540.5 456.6 L542.2 456.8 L543.8 456.8 L545.4 456.9 L547.0 456.9 L548.6 456.9 L550.2 456.9 L551.8 457.1 L553.4 457.3 L555.0 457.4 L556.6 457.5 L558.2 457.6 L559.8 457.6 L561.5 457.7 L563.1 457.7 L564.7 457.7 L566.3 457.7 L567.9 457.7 L569.5 457.7 L571.1 457.7 L572.7 457.7 L574.3 457.7 L575.9 457.7 L577.5 457.6 L579.2 457.6 L580.8 457.6 L582.4 457.6 L584.0 457.6 L585.6 457.6 L587.2 457.5 L588.8 457.5 L590.4 457.5 L592.0 457.5 L593.6 457.5 L595.2 457.4 L596.8 457.4 L598.5 457.4 L600.1 457.4 L601.7 457.4 L603.3 457.3 L604.9 457.3 L606.5 457.3" stroke="#8484ff"/>
<path d="M125.5 457.3 L127.1 457.9 L128.7 458.6 L130.3 459.2 L131.9 459.8 L133.5 460.4 L135.2 461.1 L136.8 461.7 L138.4 462.3 L140.0 463.0 L141.6 463.6 L143.2 464.3 L144.8 465.0 L146.4 465.7 L148.0 466.4 L149.6 467.2 L151.2 467.9 L152.8 468.6 L154.5 469.3 L156.1 470.1 L157.7 470.9 L159.3 471.8 L160.9 472.7 L162.5 473.7 L164.1 474.7 L165.7 475.8 L167.3 476.9 L168.9 478.0 L170.5 479.2 L172.2 480.5 L173.8 481.8 L175.4 483.2 L177.0 484.7 L178.6 486.0 L180.2 487.5 L181.8 489.0 L183.4 490.8 L185.0 492.7 L186.6 494.7 L188.2 497.0 L189.8 499.5 L191.5 502.2 L193.1 505.2 L194.7 508.2 L196.3 511.3 L197.9 514.3 L199.5 517.3 L201.1 520.0 L202.7 522.7 L204.3 525.4 L205.9 528.1 L207.5 530.6 L209.2 533.0 L210.8 535.0 L212.4 536.6 L214.0 537.9 L215.6 538.9 L217.2 539.5 L218.8 539.6 L220.4 539.3 L222.0 538.8 L223.6 537.9 L225.2 536.5 L226.8 534.6 L228.5 532.1 L230.1 528.8 L231.7 524.8 L233.3 520.2 L234.9 515.1 L236.5 509.6 L238.1 504.0 L239.7 498.0 L241.3 491.2 L242.9 483.9 L244.5 476.8 L246.2 470.0 L247.8 463.3 L249.4 456.6 L251.0 450.0 L252.6 443.8 L254.2 438.1 L255.8 432.8 L257.4 427.9 L259.0 423.3 L260.6 419.0 L262.2 414.9 L263.8 411.1 L265.5 407.7 L267.1 404.6 L268.7 401.8 L270.3 399.2 L271.9 396.9 L273.5 394.7 L275.1 392.7 L276.7 390.8 L278.3 389.2 L279.9 387.7 L281.5 386.3 L283.2 385.0 L284.8 383.8 L286.4 382.7 L288.0 381.7 L289.6 380.9 L291.2 380.4 L292.8 380.2 L294.4 379.9 L296.0 379.8 L297.6 379.8 L299.2 380.0 L300.8 380.4 L302.5 381.1 L304.1 382.1 L305.7 383.5 L307.3 385.3 L308.9 387.5 L310.5 389.8 L312.1 392.5 L313.7 395.3 L315.3 398.5 L316.9 401.9 L318.5 405.5 L320.2 409.2 L321.8 413.4 L323.4 417.7 L325.0 422.2 L326.6 426.9 L328.2 431.7 L329.8 436.6 L331.4 441.4 L333.0 446.4 L334.6 451.4 L336.2 456.3 L337.8 461.2 L339.5 466.2 L341.1 471.0 L342.7 475.5 L344.3 479.4 L345.9 483.1 L347.5 486.7 L349.1 490.4 L350.7 494.1 L352.3 497.8 L353.9 501.5 L355.5 504.4 L357.2 506.7 L358.8 508.7 L360.4 510.4 L362.0 512.1 L363.6 513.5 L365.2 514.9 L366.8 516.1 L368.4 517.2 L370.0 518.2 L371.6 518.9 L373.2 519.5 L374.8 519.8 L376.5 520.0 L378.1 520.1 L379.7 520.1 L381.3 520.1 L382.9 520.0 L384.5 519.9 L386.1 519.8 L387.7 519.7 L389.3 519.5 L390.9 519.3 L392.5 519.1 L394.2 518.9 L395.8 518.7 L397.4 518.5 L399.0 518.3 L400.6 518.1 L402.2 517.9 L403.8 517.7 L405.4 517.4 L407.0 517.1 L408.6 516.7 L410.2 516.3 L411.8 515.9 L413.5 515.5 L415.1 515.0 L416.7 514.4 L418.3 513.7 L419.9 513.0 L421.5 512.1 L423.1 511.2 L424.7 510.2 L426.3 509.1 L427.9 507.8 L429.5 506.2 L431.2 504.4 L432.8 502.7 L434.4 500.7 L436.0 497.9 L437.6 494.5 L439.2 490.7 L440.8 486.6 L442.4 481.9 L444.0 476.9 L445.6 471.4 L447.2 465.6 L448.8 459.3 L450.5 453.1 L452.1 447.0 L453.7 441.0 L455.3 435.2 L456.9 429.5 L458.5 424.1 L460.1 419.0 L461.7 414.3 L463.3 409.8 L464.9 405.6 L466.5 401.5 L468.2 397.7 L469.8 394.5 L471.4 391.8 L473.0 389.5 L474.6 388.0 L476.2 386.8 L477.8 386.0 L479.4 385.9 L481.0 386.4 L482.6 387.5 L484.2 389.0 L485.8 391.6 L487.5 394.9 L489.1 398.6 L490.7 402.5 L492.3 406.9 L493.9 411.6 L495.5 416.9 L497.1 422.3 L498.7 427.2 L500.3 431.3 L501.9 434.9 L503.5 438.0 L505.2 440.8 L506.8 443.5 L508.4 446.0 L510.0 448.2 L511.6 450.3 L513.2 452.2 L514.8 453.9 L516.4 455.4 L518.0 456.6 L519.6 457.8 L521.2 458.8 L522.8 459.6 L524.5 460.4 L526.1 461.2 L527.7 461.9 L529.3 462.5 L530.9 463.0 L532.5 463.5 L534.1 463.9 L535.7 464.3 L537.3 464.6 L538.9 464.9 L540.5 465.2 L542.2 465.5 L543.8 465.7 L545.4 465.9 L547.0 466.1 L548.6 466.3 L550.2 466.4 L551.8 466.6 L553.4 466.7 L555.0 466.9 L556.6 467.0 L558.2 467.0 L559.8 467.0 L561.5 467.1 L563.1 467.1 L564.7 467.1 L566.3 467.1 L567.9 467.0 L569.5 467.0 L571.1 467.0 L572.7 467.0 L574.3 467.0 L575.9 466.9 L577.5 466.9 L579.2 466.9 L580.8 466.8 L582.4 466.8 L584.0 466.8 L585.6 466.7 L587.2 466.7 L588.8 466.7 L590.4 466.6 L592.0 466.6 L593.6 466.6 L595.2 466.5 L596.8 466.5 L598.5 466.5 L600.1 466.4 L601.7 466.4 L603.3 466.4 L604.9 466.3 L606.5 466.3" stroke="#c4c4ff"/>
<path d="M125.5 438.6 L126.3 439.0 L127.4 439.4 L128.6 439.9 L130.0 440.5 L131.4 441.1 L133.0 441.8 L134.7 442.4 L136.3 443.1 L138.0 443.9 L139.7 444.6 L141.3 445.2 L142.8 445.9 L144.3 446.5 L145.8 447.2 L147.3 447.8 L148.9 448.4 L150.4 449.0 L152.0 449.6 L153.5 450.3 L155.1 451.0 L156.6 451.6 L158.1 452.4 L159.6 453.1 L161.0 453.9 L162.4 454.7 L163.8 455.6 L165.2 456.5 L166.6 457.4 L168.0 458.3 L169.4 459.2 L170.7 460.2 L172.0 461.2 L173.3 462.2 L174.5 463.2 L175.7 464.3 L176.9 465.3 L178.0 466.3 L179.1 467.3 L180.1 468.4 L181.0 469.4 L182.0 470.4 L182.9 471.5 L183.8 472.5 L184.7 473.7 L185.6 474.9 L186.5 476.1 L187.4 477.5 L188.3 478.9 L189.3 480.4 L190.2 482.1 L191.2 483.8 L192.1 485.6 L193.1 487.4 L194.0 489.3 L195.0 491.2 L195.9 493.2 L196.9 495.1 L197.8 497.0 L198.8 498.8 L199.7 500.6 L200.7 502.4 L201.6 504.2 L202.6 506.1 L203.6 508.0 L204.5 509.9 L205.5 511.8 L206.4 513.6 L207.4 515.3 L208.3 516.9 L209.2 518.4 L210.1 519.8 L211.0 521.0 L211.8 522.1 L212.7 523.0 L213.4 523.9 L214.2 524.7 L215.0 525.4 L215.7 525.9 L216.5 526.4 L217.2 526.8 L218.0 527.1 L218.7 527.3 L219.4 527.4 L220.2 527.4 L221.0 527.3 L221.7 527.2 L222.5 526.9 L223.2 526.6 L224.0 526.2 L224.8 525.7 L225.5 525.1 L226.3 524.3 L227.0 523.4 L227.8 522.4 L228.5 521.2 L229.3 519.9 L230.1 518.4 L230.8 516.7 L231.6 514.7 L232.4 512.7 L233.2 510.5 L234.0 508.2 L234.7 505.8 L235.5 503.4 L236.3 500.9 L237.0 498.5 L237.7 496.1 L238.4 493.7 L239.1 491.4 L239.7 489.0 L240.3 486.6 L240.9 484.2 L241.5 481.7 L242.1 479.3 L242.6 476.8 L243.2 474.3 L243.8 471.7 L244.4 469.2 L245.0 466.6 L245.7 464.0 L246.4 461.3 L247.1 458.6 L247.8 455.8 L248.5 452.9 L249.2 450.1 L249.9 447.2 L250.7 444.3 L251.4 441.5 L252.2 438.7 L253.0 436.0 L253.7 433.4 L254.5 430.9 L255.3 428.5 L256.1 426.1 L256.9 423.8 L257.7 421.5 L258.5 419.2 L259.3 417.0 L260.2 414.9 L261.0 412.9 L261.8 410.9 L262.7 409.0 L263.5 407.2 L264.3 405.5 L265.1 403.9 L265.9 402.4 L266.7 400.9 L267.5 399.6 L268.3 398.3 L269.1 397.1 L270.0 396.0 L270.8 394.9 L271.6 393.8 L272.4 392.8 L273.2 391.8 L274.0 390.9 L274.8 390.0 L275.6 389.1 L276.5 388.3 L277.3 387.6 L278.1 386.9 L279.0 386.2 L279.8 385.6 L280.6 385.0 L281.4 384.5 L282.2 383.9 L283.0 383.5 L283.8 383.0 L284.6 382.6 L285.3 382.1 L286.0 381.7 L286.7 381.4 L287.4 381.0 L288.1 380.8 L288.8 380.5 L289.6 380.3 L290.3 380.2 L291.0 380.1 L291.8 380.1 L292.6 380.1 L293.4 380.2 L294.3 380.4 L295.2 380.5 L296.1 380.8 L297.0 381.1 L297.9 381.5 L298.8 381.9 L299.7 382.4 L300.7 382.9 L301.6 383.5 L302.4 384.2 L303.3 385.0 L304.1 385.8 L305.0 386.8 L305.8 387.8 L306.6 388.8 L307.4 390.0 L308.2 391.1 L309.0 392.4 L309.8 393.7 L310.6 395.1 L311.4 396.5 L312.2 398.0 L313.0 399.6 L313.8 401.3 L314.7 403.0 L315.5 404.9 L316.4 406.9 L317.2 408.9 L318.1 411.0 L318.9 413.1 L319.8 415.2 L320.6 417.3 L321.3 419.3 L322.1 421.2 L322.8 423.0 L323.5 424.7 L324.1 426.4 L324.7 428.0 L325.2 429.5 L325.8 431.1 L326.3 432.6 L326.8 434.1 L327.3 435.6 L327.8 437.1 L328.4 438.7 L328.9 440.3 L329.5 442.0 L330.1 443.8 L330.7 445.6 L331.4 447.5 L332.0 449.5 L332.7 451.5 L333.3 453.5 L334.0 455.4 L334.6 457.4 L335.3 459.3 L335.9 461.1 L336.4 462.9 L337.0 464.5 L337.5 466.1 L338.0 467.5 L338.5 469.0 L338.9 470.3 L339.4 471.7 L339.8 473.0 L340.2 474.2 L340.6 475.4 L341.1 476.6 L341.5 477.7 L341.9 478.9 L342.3 480.0 L342.7 481.1 L343.1 482.1 L343.6 483.2 L344.0 484.1 L344.4 485.1 L344.8 486.0 L345.2 486.9 L345.6 487.8 L346.0 488.6 L346.4 489.5 L346.8 490.4 L347.2 491.2 L347.6 492.0 L347.9 492.8 L348.3 493.6 L348.6 494.4 L349.0 495.2 L349.3 495.9 L349.6 496.7 L350.0 497.4 L350.3 498.1 L350.6 498.9 L351.0 499.6 L351.3 500.3 L351.6 501.0 L352.0 501.7 L352.3 502.5 L352.6 503.2 L352.9 503.9 L353.2 504.6 L353.5 505.2 L353.8 505.9 L354.2 506.6 L354.5 507.2 L354.9 507.9 L355.3 508.5 L355.7 509.1 L356.1 509.7 L356.6 510.3 L357.0 510.9 L357.5 511.4 L358.0 512.0 L358.5 512.5 L359.0 513.0 L359.5 513.5 L360.0 514.0 L360.5 514.5 L361.0 515.0 L361.5 515.5 L362.0 515.9 L362.5 516.4 L363.1 516.8 L363.6 517.2 L364.1 517.6 L364.7 518.0 L365.2 518.4 L365.8 518.8 L366.4 519.1 L366.9 519.5 L367.5 519.8 L368.1 520.1 L368.6 520.4 L369.2 520.7 L369.7 521.0 L370.3 521.3 L370.8 521.6 L371.4 521.9 L372.0 522.1 L372.7 522.3 L373.3 522.5 L374.0 522.7 L374.8 522.8 L375.6 522.9 L376.5 523.0 L377.4 523.0 L378.4 523.1 L379.4 523.1 L380.4 523.1 L381.4 523.1 L382.4 523.0 L383.4 523.0 L384.4 522.9 L385.4 522.9 L386.3 522.8 L387.2 522.7 L388.1 522.6 L388.9 522.5 L389.8 522.4 L390.6 522.3 L391.5 522.2 L392.3 522.0 L393.1 521.9 L394.0 521.7 L394.8 521.6 L395.7 521.4 L396.5 521.3 L397.3 521.2 L398.2 521.0 L399.0 520.9 L399.9 520.7 L400.7 520.6 L401.6 520.4 L402.4 520.3 L403.3 520.1 L404.1 519.9 L405.0 519.7 L405.8 519.5 L406.7 519.3 L407.6 519.1 L408.4 518.8 L409.3 518.6 L410.2 518.3 L411.0 518.0 L411.9 517.7 L412.8 517.4 L413.6 517.1 L414.5 516.7 L415.3 516.4 L416.2 516.0 L417.0 515.6 L417.8 515.2 L418.7 514.7 L419.5 514.2 L420.3 513.7 L421.2 513.2 L422.0 512.6 L422.8 512.1 L423.6 511.5 L424.3 511.0 L425.0 510.5 L425.7 510.0 L426.3 509.5 L426.9 509.0 L427.4 508.6 L427.8 508.2 L428.2 507.8 L428.6 507.3 L429.0 506.9 L429.3 506.5 L429.6 506.1 L430.0 505.7 L430.3 505.3 L430.6 504.9 L431.0 504.5 L431.4 504.1 L431.7 503.7 L432.1 503.3 L432.4 503.0 L432.7 502.6 L433.1 502.2 L433.4 501.8 L433.7 501.4 L434.1 500.9 L434.4 500.4 L434.7 499.9 L435.1 499.3 L435.5 498.6 L435.8 497.9 L436.2 497.2 L436.6 496.4 L437.0 495.5 L437.3 494.7 L437.7 493.8 L438.1 492.9 L438.5 492.1 L438.8 491.2 L439.2 490.3 L439.5 489.5 L439.8 488.7 L440.1 487.9 L440.4 487.1 L440.7 486.4 L441.0 485.6 L441.2 484.8 L441.5 484.0 L441.8 483.2 L442.1 482.4 L442.3 481.6 L442.6 480.7 L442.9 479.8 L443.2 478.9 L443.5 477.9 L443.8 477.0 L444.1 476.0 L444.4 475.0 L444.7 474.0 L445.0 473.0 L445.3 471.9 L445.6 470.8 L445.9 469.7 L446.2 468.6 L446.5 467.5 L446.8 466.3 L447.1 465.2 L447.4 464.0 L447.7 462.7 L448.1 461.5 L448.4 460.2 L448.7 459.0 L449.0 457.7 L449.3 456.4 L449.7 455.0 L450.0 453.7 L450.4 452.3 L450.8 450.9 L451.2 449.4 L451.6 447.9 L452.0 446.4 L452.4 444.9 L452.8 443.3 L453.3 441.8 L453.7 440.2 L454.1 438.7 L454.5 437.3 L454.9 435.9 L455.3 434.5 L455.7 433.2 L456.0 431.9 L456.4 430.7 L456.7 429.5 L457.1 428.3 L457.4 427.1 L457.8 426.0 L458.1 424.9 L458.5 423.8 L458.8 422.7 L459.1 421.6 L459.5 420.5 L459.9 419.4 L460.2 418.4 L460.6 417.3 L460.9 416.3 L461.3 415.3 L461.7 414.2 L462.0 413.3 L462.4 412.3 L462.7 411.3 L463.1 410.4 L463.4 409.4 L463.8 408.5 L464.2 407.6 L464.5 406.7 L464.9 405.8 L465.2 404.9 L465.6 404.0 L465.9 403.2 L466.3 402.3 L466.6 401.5 L467.0 400.7 L467.3 400.0 L467.7 399.2 L468.0 398.5 L468.3 397.8 L468.7 397.1 L469.0 396.5 L469.4 395.9 L469.7 395.3 L470.0 394.7 L470.4 394.2 L470.7 393.6 L471.0 393.1 L471.4 392.7 L471.7 392.2 L472.0 391.8 L472.3 391.4 L472.6 391.1 L472.9 390.7 L473.2 390.5 L473.5 390.2 L473.8 389.9 L474.1 389.7 L474.4 389.5 L474.7 389.3 L474.9 389.1 L475.2 389.0 L475.5 388.8 L475.8 388.6 L476.0 388.5 L476.3 388.4 L476.6 388.2 L476.8 388.1 L477.1 388.0 L477.4 387.9 L477.6 387.9 L477.9 387.8 L478.2 387.8 L478.4 387.8 L478.7 387.8 L479.0 387.8 L479.2 387.9 L479.5 387.9 L479.8 388.0 L480.0 388.1 L480.3 388.2 L480.6 388.3 L480.8 388.4 L481.1 388.6 L481.4 388.8 L481.7 389.0 L482.0 389.3 L482.3 389.6 L482.6 389.8 L482.9 390.1 L483.2 390.3 L483.5 390.6 L483.8 391.0 L484.1 391.3 L484.4 391.8 L484.8 392.3 L485.2 392.9 L485.6 393.7 L486.0 394.5 L486.5 395.5 L487.0 396.5 L487.5 397.7 L488.0 399.0 L488.6 400.4 L489.2 401.8 L489.8 403.3 L490.4 404.8 L491.0 406.3 L491.6 407.9 L492.1 409.4 L492.7 411.0 L493.2 412.6 L493.8 414.3 L494.3 416.0 L494.9 417.8 L495.4 419.6 L495.9 421.4 L496.5 423.2 L497.0 425.0 L497.6 426.8 L498.1 428.4 L498.6 430.0 L499.2 431.5 L499.7 432.9 L500.3 434.2 L500.8 435.5 L501.4 436.7 L501.9 437.8 L502.4 438.9 L503.0 440.0 L503.6 441.1 L504.1 442.1 L504.7 443.1 L505.4 444.2 L506.0 445.2 L506.7 446.2 L507.4 447.3 L508.1 448.3 L508.8 449.3 L509.5 450.3 L510.3 451.3 L511.0 452.2 L511.8 453.1 L512.6 454.0 L513.4 454.9 L514.3 455.7 L515.1 456.5 L516.0 457.2 L516.9 457.9 L517.8 458.6 L518.7 459.3 L519.7 459.9 L520.7 460.4 L521.6 461.0 L522.6 461.5 L523.6 462.0 L524.6 462.5 L525.5 463.0 L526.5 463.4 L527.4 463.8 L528.4 464.2 L529.3 464.5 L530.2 464.8 L531.2 465.1 L532.1 465.4 L533.1 465.6 L534.0 465.9 L535.0 466.1 L535.9 466.3 L536.9 466.6 L537.9 466.8 L538.9 467.0 L539.9 467.3 L540.9 467.5 L542.0 467.7 L543.0 467.9 L544.1 468.1 L545.1 468.3 L546.2 468.4 L547.3 468.6 L548.4 468.7 L549.5 468.9 L550.7 469.0 L551.8 469.1 L552.8 469.2 L553.7 469.3 L554.6 469.4 L555.6 469.5 L556.6 469.5 L557.6 469.6 L558.9 469.6 L560.3 469.6 L561.9 469.7 L563.7 469.7 L565.9 469.7 L568.5 469.7 L571.7 469.7 L575.2 469.7 L579.1 469.6 L583.1 469.6 L587.1 469.5 L591.2 469.5 L595.0 469.4 L598.6 469.4 L601.8 469.4 L604.5 469.3 L606.5 469.3" stroke="#000000"/>
<path d="M125.5 448.0 L127.1 448.4 L128.7 448.9 L130.3 449.3 L131.9 449.8 L133.5 450.2 L135.2 450.7 L136.8 451.1 L138.4 451.5 L140.0 452.0 L141.6 452.5 L143.2 452.9 L144.8 453.5 L146.4 454.1 L148.0 454.6 L149.6 455.1 L151.2 455.7 L152.8 456.2 L154.5 456.8 L156.1 457.4 L157.7 458.1 L159.3 458.8 L160.9 459.5 L162.5 460.3 L164.1 461.0 L165.7 461.8 L167.3 462.6 L168.9 463.5 L170.5 464.4 L172.2 465.4 L173.8 466.5 L175.4 467.6 L177.0 468.8 L178.6 469.9 L180.2 471.1 L181.8 472.4 L183.4 473.8 L185.0 475.5 L186.6 477.3 L188.2 479.3 L189.8 481.5 L191.5 483.9 L193.1 486.5 L194.7 489.3 L196.3 492.0 L197.9 494.8 L199.5 497.4 L201.1 500.2 L202.7 503.2 L204.3 506.2 L205.9 509.1 L207.5 512.0 L209.2 514.6 L210.8 516.9 L212.4 518.8 L214.0 520.4 L215.6 521.7 L217.2 522.5 L218.8 522.9 L220.4 522.8 L222.0 522.4 L223.6 521.6 L225.2 520.4 L226.8 518.6 L228.5 516.2 L230.1 513.1 L231.7 509.2 L233.3 504.7 L234.9 499.7 L236.5 494.4 L238.1 488.8 L239.7 482.9 L241.3 476.4 L242.9 469.5 L244.5 462.7 L246.2 456.2 L247.8 449.8 L249.4 443.4 L251.0 437.2 L252.6 431.3 L254.2 425.9 L255.8 421.0 L257.4 416.6 L259.0 412.5 L260.6 408.6 L262.2 405.1 L263.8 401.8 L265.5 398.8 L267.1 396.2 L268.7 393.9 L270.3 391.8 L271.9 390.0 L273.5 388.3 L275.1 386.7 L276.7 385.6 L278.3 384.7 L279.9 383.9 L281.5 383.2 L283.2 382.7 L284.8 382.2 L286.4 381.7 L288.0 381.4 L289.6 381.4 L291.2 381.6 L292.8 382.1 L294.4 382.6 L296.0 383.3 L297.6 384.1 L299.2 385.1 L300.8 386.4 L302.5 387.8 L304.1 389.6 L305.7 391.7 L307.3 394.1 L308.9 396.8 L310.5 399.7 L312.1 402.8 L313.7 406.2 L315.3 409.9 L316.9 413.8 L318.5 418.0 L320.2 422.2 L321.8 426.7 L323.4 431.2 L325.0 435.8 L326.6 440.7 L328.2 445.8 L329.8 450.9 L331.4 456.0 L333.0 461.1 L334.6 466.3 L336.2 471.4 L337.8 476.5 L339.5 481.6 L341.1 486.5 L342.7 491.1 L344.3 495.2 L345.9 498.8 L347.5 502.2 L349.1 505.7 L350.7 509.1 L352.3 512.5 L353.9 515.6 L355.5 518.0 L357.2 519.7 L358.8 521.1 L360.4 522.3 L362.0 523.3 L363.6 524.2 L365.2 524.9 L366.8 525.4 L368.4 526.1 L370.0 526.7 L371.6 527.1 L373.2 527.4 L374.8 527.6 L376.5 527.7 L378.1 527.8 L379.7 527.8 L381.3 527.7 L382.9 527.6 L384.5 527.5 L386.1 527.4 L387.7 527.2 L389.3 527.0 L390.9 526.7 L392.5 526.4 L394.2 526.1 L395.8 525.8 L397.4 525.5 L399.0 525.2 L400.6 524.8 L402.2 524.5 L403.8 524.2 L405.4 523.8 L407.0 523.3 L408.6 522.8 L410.2 522.2 L411.8 521.5 L413.5 520.8 L415.1 520.0 L417.1 519.1 L419.1 518.1 L421.1 517.0 L423.2 515.3 L425.7 513.5 L428.1 511.7 L430.5 509.8 L432.6 508.1 L434.6 506.3 L436.5 504.3 L438.2 502.5 L439.8 500.5 L441.4 497.6 L443.0 494.1 L444.6 490.3 L446.1 486.1 L447.7 481.3 L449.3 476.2 L450.9 470.6 L452.5 464.7 L454.0 458.3 L455.6 452.1 L457.2 446.1 L458.8 440.3 L460.4 434.6 L461.9 429.0 L463.5 423.6 L465.1 418.7 L466.4 414.1 L467.8 409.7 L469.1 405.6 L470.3 401.7 L471.1 398.2 L472.0 395.2 L472.9 392.9 L474.0 391.1 L475.3 390.0 L476.6 389.3 L478.0 388.9 L479.4 389.2 L481.0 390.0 L482.6 391.6 L484.2 393.4 L485.8 396.3 L487.5 400.0 L489.1 404.1 L490.7 408.4 L492.3 412.9 L493.9 417.6 L495.5 422.9 L497.1 428.3 L498.7 433.2 L500.3 437.3 L501.9 440.9 L503.5 444.0 L505.2 446.8 L506.8 449.3 L508.4 451.5 L510.0 453.6 L511.6 455.4 L513.2 457.1 L514.8 458.6 L516.4 459.8 L518.0 460.9 L519.6 461.8 L521.2 462.7 L522.8 463.4 L524.5 464.1 L526.1 464.8 L527.7 465.4 L529.3 465.9 L530.9 466.3 L532.5 466.7 L534.1 467.0 L535.7 467.2 L537.3 467.5 L538.9 467.8 L540.5 468.0 L542.2 468.2 L543.8 468.4 L545.4 468.6 L547.0 468.7 L548.6 468.8 L550.2 468.9 L551.8 469.1 L553.4 469.2 L555.0 469.3 L556.6 469.4 L558.2 469.4 L559.8 469.5 L561.5 469.5 L563.1 469.4 L564.7 469.4 L566.3 469.4 L567.9 469.4 L569.5 469.4 L571.1 469.3 L572.7 469.3 L574.3 469.2 L575.9 469.2 L577.5 469.2 L579.2 469.1 L580.8 469.1 L582.4 469.0 L584.0 469.0 L585.6 468.9 L587.2 468.9 L588.8 468.8 L590.4 468.8 L592.0 468.7 L593.6 468.7 L595.2 468.6 L596.8 468.6 L598.5 468.5 L600.1 468.5 L601.7 468.4 L603.3 468.4 L604.9 468.3 L606.5 468.3" stroke="#ffc8c8"/>
<path d="M125.5 447.0 L127.1 446.7 L128.7 446.4 L130.3 446.1 L131.9 445.8 L133.5 445.5 L135.2 445.2 L136.8 444.9 L138.4 444.6 L140.0 444.4 L141.6 444.2 L143.2 444.0 L144.8 443.7 L146.4 443.3 L148.0 443.0 L149.6 442.7 L151.2 442.4 L152.8 442.2 L154.5 441.9 L156.1 441.7 L157.7 441.6 L159.3 441.5 L160.9 441.4 L162.5 441.6 L164.1 441.8 L165.7 442.0 L167.3 442.3 L168.9 442.7 L170.5 443.1 L172.2 443.5 L173.8 444.1 L175.4 444.7 L177.0 445.4 L178.6 446.0 L180.2 446.7 L181.8 447.6 L183.4 448.6 L185.0 449.8 L186.6 451.3 L188.2 452.9 L189.8 454.7 L191.5 456.9 L193.1 459.2 L194.7 461.7 L196.3 464.3 L197.9 467.0 L199.5 469.7 L201.1 472.3 L202.7 475.1 L204.3 477.9 L205.9 480.7 L207.5 483.6 L209.2 486.5 L210.8 489.3 L212.4 492.1 L214.0 495.0 L215.6 497.7 L217.2 499.9 L218.8 501.6 L220.4 502.8 L222.0 503.7 L223.6 504.3 L225.2 504.0 L226.8 503.2 L228.5 501.4 L230.1 497.7 L231.7 493.9 L233.3 489.9 L234.9 485.9 L236.5 481.6 L238.1 477.0 L239.7 471.8 L241.3 465.6 L242.9 458.7 L244.5 452.2 L246.2 446.4 L247.8 440.7 L249.4 434.7 L251.0 428.9 L252.6 423.6 L254.2 419.0 L255.8 414.9 L257.4 411.1 L259.0 407.6 L260.6 404.4 L262.2 401.5 L263.8 398.9 L265.5 396.7 L267.1 394.8 L268.7 393.3 L270.3 392.0 L271.9 390.9 L273.5 389.9 L275.1 388.9 L276.7 387.8 L278.3 386.8 L279.9 386.0 L281.5 385.3 L283.2 384.8 L284.8 384.3 L286.4 383.9 L288.0 383.6 L289.6 383.4 L291.2 383.5 L292.8 383.7 L294.4 384.3 L296.0 385.2 L297.6 386.3 L299.2 387.5 L300.8 388.8 L302.5 390.4 L304.1 392.2 L305.7 394.4 L307.3 397.1 L308.9 400.1 L310.5 403.2 L312.1 406.5 L313.7 410.0 L315.3 413.7 L316.9 417.4 L318.5 421.0 L320.2 424.9 L321.8 429.4 L323.4 434.6 L325.0 440.3 L326.6 446.2 L328.2 452.6 L329.8 458.6 L331.4 464.1 L333.0 469.3 L334.6 474.4 L336.2 479.3 L337.8 483.9 L339.5 488.4 L341.1 492.7 L342.7 496.9 L344.3 500.8 L345.9 504.7 L347.5 508.3 L349.1 511.9 L350.7 515.1 L352.3 518.0 L353.9 520.7 L355.5 523.2 L357.2 525.2 L358.8 526.8 L360.4 528.2 L362.0 529.4 L363.6 530.4 L365.2 531.2 L366.8 531.9 L368.4 532.4 L370.0 532.9 L371.6 533.3 L373.2 533.5 L374.8 533.6 L376.5 533.5 L378.1 533.3 L379.7 533.0 L381.3 532.7 L382.9 532.4 L384.5 532.1 L386.1 531.8 L387.7 531.4 L389.3 531.0 L390.9 530.6 L392.5 530.2 L394.2 529.9 L395.8 529.5 L397.4 529.1 L399.0 528.7 L400.6 528.2 L402.2 527.7 L403.8 527.3 L405.4 526.7 L407.0 526.3 L408.8 525.8 L410.7 525.3 L412.6 524.7 L414.5 523.8 L416.5 522.7 L418.5 521.5 L420.4 520.3 L422.4 519.1 L424.0 517.7 L425.6 516.4 L427.2 514.9 L428.8 513.4 L430.4 511.5 L432.0 509.4 L433.7 507.4 L435.3 505.3 L436.9 503.3 L438.5 501.4 L440.1 499.4 L441.7 496.8 L443.3 493.7 L444.9 490.2 L446.5 486.1 L448.1 481.2 L449.7 475.7 L451.3 469.5 L453.0 463.3 L454.6 456.9 L456.2 450.7 L457.8 444.6 L459.4 438.4 L461.0 432.4 L462.6 426.4 L464.2 420.5 L465.8 414.6 L467.4 409.0 L468.8 405.7 L470.2 402.6 L471.6 399.4 L473.0 395.8 L474.3 392.1 L475.6 389.4 L477.0 388.2 L478.3 388.1 L479.7 388.2 L481.2 389.0 L482.7 390.1 L484.2 391.8 L485.8 394.2 L487.5 396.9 L489.1 400.0 L490.7 403.7 L492.3 408.3 L493.9 413.8 L495.5 419.3 L497.1 424.2 L498.7 428.5 L500.3 432.5 L501.9 436.1 L503.5 439.0 L505.2 441.3 L506.8 443.4 L508.4 445.2 L510.0 446.8 L511.6 448.2 L513.2 449.5 L514.8 450.7 L516.4 451.6 L518.0 452.3 L519.6 452.9 L521.2 453.4 L522.8 453.9 L524.5 454.3 L526.1 454.7 L527.7 454.9 L529.3 455.2 L530.9 455.4 L532.5 455.6 L534.1 455.7 L535.7 455.9 L537.3 456.0 L538.9 456.1 L540.5 456.2 L542.2 456.3 L543.8 456.4 L545.4 456.5 L547.0 456.5 L548.6 456.5 L550.2 456.5 L551.8 456.6 L553.4 456.6 L555.0 456.6 L556.6 456.6 L558.2 456.5 L559.8 456.5 L561.5 456.5 L563.1 456.4 L564.7 456.4 L566.3 456.4 L567.9 456.5 L569.5 456.6 L571.1 456.7 L572.7 456.8 L574.3 456.8 L575.9 456.9 L577.5 456.9 L579.2 457.0 L580.8 457.0 L582.4 457.0 L584.0 457.0 L585.6 457.0 L587.2 457.0 L588.8 456.9 L590.4 456.9 L592.0 456.9 L593.6 456.8 L595.2 456.8 L596.8 456.8 L598.5 456.7 L600.1 456.7 L601.7 456.6 L603.3 456.6 L604.9 456.5 L606.5 456.5" stroke="#ff8080"/>
<path d="M125.5 452.8 L126.3 452.5 L127.4 452.1 L128.6 451.7 L130.0 451.2 L131.4 450.7 L133.0 450.1 L134.7 449.6 L136.3 449.0 L138.0 448.5 L139.7 448.0 L141.3 447.5 L142.8 447.1 L144.3 446.7 L145.8 446.4 L147.3 446.0 L148.9 445.7 L150.4 445.4 L152.0 445.1 L153.5 444.9 L155.1 444.6 L156.6 444.4 L158.1 444.3 L159.6 444.2 L161.0 444.1 L162.4 444.1 L163.8 444.1 L165.2 444.1 L166.6 444.1 L168.0 444.2 L169.4 444.3 L170.7 444.5 L172.0 444.7 L173.3 444.9 L174.5 445.2 L175.7 445.5 L176.9 445.9 L178.0 446.3 L179.1 446.8 L180.1 447.3 L181.0 447.8 L182.0 448.3 L182.9 448.9 L183.8 449.6 L184.7 450.3 L185.6 451.1 L186.5 452.0 L187.4 452.9 L188.3 453.9 L189.3 455.0 L190.2 456.2 L191.2 457.5 L192.1 458.8 L193.1 460.2 L194.0 461.7 L195.0 463.2 L195.9 464.7 L196.9 466.3 L197.8 467.8 L198.8 469.4 L199.7 471.0 L200.7 472.6 L201.7 474.3 L202.7 476.1 L203.7 478.0 L204.7 479.8 L205.7 481.7 L206.7 483.5 L207.6 485.3 L208.5 487.0 L209.4 488.6 L210.2 490.1 L211.0 491.5 L211.7 492.7 L212.3 493.9 L212.9 494.9 L213.4 495.9 L213.9 496.8 L214.4 497.6 L214.8 498.4 L215.2 499.2 L215.7 499.9 L216.1 500.5 L216.5 501.2 L217.0 501.8 L217.5 502.4 L217.9 503.0 L218.4 503.5 L218.9 503.9 L219.4 504.4 L219.8 504.8 L220.3 505.1 L220.7 505.4 L221.2 505.7 L221.6 506.0 L222.0 506.1 L222.4 506.3 L222.8 506.4 L223.2 506.5 L223.5 506.5 L223.9 506.4 L224.3 506.3 L224.6 506.2 L224.9 506.1 L225.3 505.9 L225.6 505.7 L225.9 505.5 L226.2 505.2 L226.5 505.0 L226.8 504.8 L227.0 504.7 L227.1 504.6 L227.3 504.5 L227.4 504.4 L227.6 504.3 L227.8 504.1 L227.9 503.7 L228.2 503.2 L228.5 502.6 L228.9 501.7 L229.3 500.6 L229.8 499.2 L230.5 497.6 L231.2 495.7 L232.0 493.7 L232.8 491.5 L233.7 489.2 L234.5 486.8 L235.4 484.5 L236.2 482.1 L237.0 479.8 L237.7 477.6 L238.4 475.5 L239.0 473.5 L239.6 471.4 L240.1 469.4 L240.6 467.3 L241.1 465.2 L241.6 463.2 L242.0 461.3 L242.5 459.4 L242.9 457.5 L243.3 455.8 L243.6 454.2 L244.0 452.8 L244.3 451.6 L244.6 450.6 L244.8 449.8 L244.9 449.1 L245.1 448.5 L245.2 448.0 L245.4 447.4 L245.5 446.8 L245.7 446.1 L246.0 445.2 L246.3 444.0 L246.7 442.6 L247.2 440.9 L247.7 438.9 L248.2 436.8 L248.8 434.4 L249.5 432.0 L250.2 429.5 L250.8 426.9 L251.6 424.4 L252.3 421.9 L253.0 419.5 L253.8 417.3 L254.5 415.2 L255.2 413.3 L256.0 411.4 L256.8 409.5 L257.6 407.7 L258.4 405.9 L259.3 404.2 L260.1 402.6 L261.0 401.1 L261.8 399.6 L262.6 398.2 L263.5 396.9 L264.3 395.7 L265.1 394.6 L265.9 393.6 L266.7 392.7 L267.5 391.9 L268.3 391.2 L269.1 390.5 L270.0 389.9 L270.8 389.4 L271.6 388.9 L272.4 388.4 L273.2 387.9 L274.0 387.5 L274.8 387.1 L275.6 386.7 L276.4 386.4 L277.3 386.1 L278.1 385.8 L278.9 385.6 L279.7 385.4 L280.5 385.3 L281.4 385.2 L282.2 385.1 L283.0 385.0 L283.8 385.0 L284.6 385.0 L285.4 385.0 L286.2 385.0 L287.0 385.1 L287.8 385.2 L288.6 385.3 L289.5 385.4 L290.3 385.6 L291.1 385.9 L291.9 386.2 L292.7 386.6 L293.5 387.0 L294.3 387.5 L295.2 388.1 L296.0 388.7 L296.9 389.4 L297.7 390.1 L298.6 390.9 L299.4 391.7 L300.2 392.5 L301.0 393.4 L301.8 394.2 L302.6 395.1 L303.3 396.0 L304.0 396.9 L304.6 397.8 L305.3 398.8 L305.9 399.8 L306.5 400.8 L307.1 401.9 L307.6 402.9 L308.2 404.0 L308.7 405.0 L309.2 406.1 L309.8 407.2 L310.3 408.2 L310.8 409.2 L311.3 410.3 L311.8 411.4 L312.3 412.4 L312.8 413.5 L313.3 414.6 L313.7 415.7 L314.2 416.7 L314.6 417.8 L315.1 418.9 L315.6 419.9 L316.0 421.0 L316.4 422.0 L316.9 423.1 L317.3 424.1 L317.8 425.1 L318.2 426.1 L318.6 427.1 L319.1 428.1 L319.5 429.2 L319.9 430.2 L320.3 431.3 L320.7 432.4 L321.1 433.5 L321.5 434.7 L321.9 435.8 L322.3 437.1 L322.6 438.3 L323.0 439.5 L323.4 440.8 L323.7 442.1 L324.1 443.3 L324.4 444.6 L324.8 445.9 L325.1 447.2 L325.5 448.5 L325.8 449.8 L326.2 451.1 L326.5 452.4 L326.9 453.7 L327.2 455.1 L327.5 456.4 L327.9 457.7 L328.2 459.1 L328.5 460.4 L328.9 461.8 L329.2 463.1 L329.6 464.5 L330.0 465.9 L330.4 467.3 L330.8 468.7 L331.2 470.1 L331.6 471.5 L332.0 472.9 L332.5 474.3 L332.9 475.7 L333.3 477.1 L333.7 478.4 L334.1 479.7 L334.5 481.0 L334.9 482.2 L335.3 483.4 L335.6 484.5 L336.0 485.6 L336.3 486.7 L336.7 487.8 L337.0 488.9 L337.4 489.9 L337.7 490.9 L338.1 492.0 L338.4 493.0 L338.8 494.0 L339.2 495.0 L339.5 496.0 L339.9 497.0 L340.2 498.0 L340.6 499.0 L340.9 499.9 L341.3 500.9 L341.6 501.8 L342.0 502.7 L342.3 503.7 L342.7 504.6 L343.0 505.5 L343.3 506.4 L343.7 507.3 L344.0 508.2 L344.4 509.1 L344.7 509.9 L345.1 510.8 L345.4 511.6 L345.8 512.5 L346.1 513.3 L346.5 514.2 L346.8 515.0 L347.2 515.8 L347.5 516.6 L347.9 517.4 L348.2 518.2 L348.6 519.0 L348.9 519.7 L349.2 520.5 L349.6 521.2 L349.9 522.0 L350.3 522.7 L350.7 523.5 L351.1 524.2 L351.5 525.0 L351.9 525.8 L352.4 526.6 L352.8 527.4 L353.3 528.2 L353.8 529.0 L354.3 529.7 L354.8 530.5 L355.3 531.3 L355.8 532.0 L356.3 532.7 L356.9 533.4 L357.4 534.0 L358.0 534.6 L358.5 535.1 L359.1 535.7 L359.7 536.2 L360.3 536.6 L360.9 537.1 L361.5 537.5 L362.2 537.9 L362.8 538.3 L363.5 538.6 L364.1 538.9 L364.8 539.2 L365.5 539.5 L366.2 539.7 L366.9 539.9 L367.6 540.1 L368.3 540.2 L369.1 540.4 L369.8 540.5 L370.6 540.5 L371.3 540.6 L372.0 540.6 L372.8 540.6 L373.5 540.6 L374.2 540.6 L375.0 540.5 L375.7 540.3 L376.4 540.2 L377.2 540.0 L377.9 539.8 L378.6 539.6 L379.3 539.4 L380.1 539.2 L380.8 538.9 L381.5 538.7 L382.2 538.5 L382.9 538.3 L383.5 538.1 L384.2 537.9 L384.8 537.7 L385.4 537.5 L386.1 537.3 L386.7 537.0 L387.4 536.8 L388.1 536.5 L388.8 536.3 L389.6 535.9 L390.4 535.6 L391.3 535.2 L392.2 534.8 L393.2 534.4 L394.2 534.0 L395.2 533.5 L396.3 533.0 L397.4 532.5 L398.5 532.0 L399.5 531.5 L400.6 531.0 L401.7 530.4 L402.7 529.9 L403.7 529.4 L404.8 528.8 L405.8 528.2 L406.8 527.7 L407.9 527.1 L408.9 526.5 L410.0 525.9 L411.0 525.3 L412.0 524.7 L413.0 524.1 L414.0 523.4 L414.9 522.8 L415.8 522.1 L416.8 521.5 L417.7 520.8 L418.7 520.0 L419.6 519.3 L420.5 518.6 L421.4 517.9 L422.2 517.2 L423.0 516.5 L423.8 515.8 L424.5 515.2 L425.1 514.6 L425.7 514.1 L426.2 513.6 L426.6 513.1 L427.0 512.6 L427.4 512.2 L427.7 511.8 L428.0 511.4 L428.3 511.0 L428.6 510.6 L428.9 510.2 L429.2 509.7 L429.6 509.3 L430.0 508.8 L430.4 508.4 L430.7 507.9 L431.1 507.4 L431.5 506.9 L431.9 506.5 L432.2 506.0 L432.6 505.5 L433.0 505.0 L433.4 504.5 L433.7 504.1 L434.1 503.6 L434.5 503.1 L434.8 502.7 L435.2 502.3 L435.6 501.9 L435.9 501.4 L436.3 501.0 L436.7 500.6 L437.0 500.1 L437.4 499.6 L437.8 499.1 L438.1 498.6 L438.5 498.0 L438.9 497.4 L439.2 496.7 L439.6 496.0 L440.0 495.3 L440.4 494.5 L440.8 493.8 L441.1 493.0 L441.5 492.2 L441.9 491.4 L442.2 490.6 L442.6 489.8 L442.9 489.0 L443.2 488.2 L443.5 487.4 L443.8 486.6 L444.1 485.8 L444.4 485.0 L444.7 484.2 L444.9 483.4 L445.2 482.5 L445.5 481.7 L445.8 480.8 L446.0 479.9 L446.3 479.0 L446.6 478.1 L446.8 477.1 L447.1 476.2 L447.4 475.2 L447.6 474.2 L447.9 473.2 L448.2 472.2 L448.4 471.2 L448.7 470.2 L449.0 469.1 L449.2 468.1 L449.5 467.0 L449.8 465.9 L450.1 464.9 L450.3 463.8 L450.6 462.7 L450.9 461.6 L451.1 460.5 L451.4 459.4 L451.7 458.3 L452.0 457.1 L452.3 455.9 L452.7 454.6 L453.0 453.3 L453.4 451.9 L453.7 450.5 L454.1 448.9 L454.5 447.4 L455.0 445.8 L455.4 444.1 L455.8 442.5 L456.2 440.9 L456.6 439.4 L457.0 437.8 L457.4 436.4 L457.8 435.0 L458.1 433.7 L458.5 432.4 L458.8 431.2 L459.1 430.1 L459.4 428.9 L459.7 427.8 L460.0 426.7 L460.3 425.6 L460.6 424.6 L460.9 423.5 L461.2 422.4 L461.5 421.3 L461.8 420.2 L462.1 419.1 L462.4 418.0 L462.7 417.0 L463.0 415.9 L463.3 414.9 L463.5 413.8 L463.8 412.7 L464.1 411.7 L464.5 410.6 L464.8 409.6 L465.1 408.5 L465.4 407.4 L465.8 406.3 L466.2 405.2 L466.5 404.1 L466.9 403.0 L467.3 401.9 L467.7 400.7 L468.1 399.7 L468.5 398.6 L468.8 397.5 L469.2 396.5 L469.5 395.5 L469.8 394.5 L470.1 393.5 L470.4 392.6 L470.7 391.6 L471.0 390.7 L471.3 389.8 L471.5 388.9 L471.8 388.0 L472.1 387.2 L472.3 386.4 L472.6 385.7 L472.8 385.0 L473.0 384.4 L473.3 383.8 L473.5 383.2 L473.7 382.7 L473.9 382.2 L474.1 381.8 L474.3 381.4 L474.5 381.0 L474.7 380.6 L474.9 380.3 L475.1 379.9 L475.3 379.6 L475.5 379.3 L475.8 379.0 L476.0 378.7 L476.2 378.5 L476.5 378.2 L476.7 378.0 L477.0 377.8 L477.2 377.7 L477.5 377.5 L477.7 377.4 L478.0 377.4 L478.2 377.3 L478.4 377.3 L478.7 377.3 L478.9 377.3 L479.2 377.4 L479.4 377.4 L479.6 377.5 L479.9 377.7 L480.1 377.8 L480.4 378.0 L480.7 378.2 L480.9 378.4 L481.2 378.6 L481.5 378.8 L481.8 379.1 L482.0 379.3 L482.3 379.6 L482.6 379.8 L482.9 380.1 L483.2 380.5 L483.6 380.8 L483.9 381.3 L484.2 381.8 L484.6 382.4 L485.0 383.0 L485.4 383.7 L485.8 384.5 L486.3 385.3 L486.8 386.2 L487.3 387.1 L487.8 388.0 L488.3 389.1 L488.8 390.2 L489.3 391.3 L489.8 392.5 L490.3 393.8 L490.8 395.1 L491.3 396.5 L491.8 398.1 L492.3 399.7 L492.8 401.4 L493.3 403.2 L493.8 405.0 L494.3 406.8 L494.8 408.6 L495.3 410.4 L495.8 412.2 L496.4 413.9 L496.9 415.6 L497.4 417.2 L498.0 418.8 L498.5 420.4 L499.0 422.0 L499.6 423.6 L500.1 425.2 L500.7 426.7 L501.2 428.2 L501.8 429.7 L502.4 431.1 L503.1 432.5 L503.7 433.8 L504.4 435.1 L505.1 436.3 L505.8 437.5 L506.6 438.6 L507.3 439.8 L508.1 440.8 L508.9 441.9 L509.7 442.8 L510.5 443.8 L511.3 444.7 L512.0 445.5 L512.8 446.3 L513.6 447.0 L514.3 447.7 L515.1 448.3 L515.9 448.8 L516.6 449.3 L517.4 449.7 L518.2 450.1 L518.9 450.5 L519.7 450.9 L520.5 451.3 L521.2 451.6 L522.0 452.0 L522.8 452.4 L523.5 452.7 L524.2 453.0 L525.0 453.3 L525.7 453.6 L526.4 453.9 L527.2 454.2 L527.9 454.4 L528.7 454.7 L529.5 454.9 L530.3 455.2 L531.1 455.4 L531.9 455.6 L532.8 455.9 L533.6 456.1 L534.5 456.3 L535.3 456.4 L536.2 456.6 L537.1 456.8 L538.1 457.0 L539.1 457.2 L540.1 457.4 L541.2 457.7 L542.4 457.9 L543.6 458.2 L544.9 458.4 L546.3 458.7 L547.7 459.0 L549.1 459.3 L550.6 459.7 L552.1 460.0 L553.6 460.3 L555.2 460.6 L556.8 460.9 L558.4 461.2 L560.0 461.5 L561.6 461.8 L563.3 462.1 L564.9 462.3 L566.6 462.6 L568.3 462.9 L570.1 463.2 L571.8 463.4 L573.6 463.7 L575.4 463.9 L577.3 464.2 L579.2 464.4 L581.1 464.6 L583.1 464.8 L585.4 465.0 L587.7 465.2 L590.2 465.4 L592.7 465.6 L595.1 465.7 L597.5 465.9 L599.8 466.1 L601.8 466.2 L603.7 466.3 L605.3 466.4 L606.5 466.5" stroke="#ff0000"/>
</g>
<circle cx="391.5" cy="478.8" r="38.2" fill="none" stroke="#2020ff" stroke-width="1.2" stroke-dasharray="5 3.2"/>
<circle cx="384.6" cy="493.4" r="34" fill="none" stroke="#b4b4b4" stroke-width="1.2" stroke-dasharray="5 3.2"/>
<circle cx="372.5" cy="519.8" r="20.9" fill="none" stroke="#ff2020" stroke-width="1.2" stroke-dasharray="5 3.2"/>
<rect x="125.5" y="352.3" width="481" height="213.1" fill="none" stroke="#000" stroke-width="1.2"/>
<path d="M125.5 565.4 v-5.5 M259.1 565.4 v-5.5 M392.7 565.4 v-5.5 M526.3 565.4 v-5.5 M192.3 565.4 v-3 M325.9 565.4 v-3 M459.5 565.4 v-3 M593.1 565.4 v-3 M125.5 352.3 h5.5 M125.5 408.5 h5.5 M125.5 464.6 h5.5 M125.5 520.8 h5.5 M125.5 380.4 h3 M125.5 436.5 h3 M125.5 492.7 h3 M125.5 548.8 h3 " stroke="#000" stroke-width="1.1" fill="none"/>
<text x="119.6" y="357.1" font-size="13.2" text-anchor="end" fill="#000">1.0</text>
<text x="119.6" y="413.3" font-size="13.2" text-anchor="end" fill="#000">0.5</text>
<text x="119.6" y="469.4" font-size="13.2" text-anchor="end" fill="#000">0.0</text>
<text x="119.6" y="525.5" font-size="13.2" text-anchor="end" fill="#000">-0.5</text>
<text x="125.8" y="584.4" font-size="13" text-anchor="middle" fill="#000">0</text>
<text x="259.4" y="584.4" font-size="13" text-anchor="middle" fill="#000">5</text>
<text x="393.0" y="584.4" font-size="13" text-anchor="middle" fill="#000">10</text>
<text x="526.6" y="584.4" font-size="13" text-anchor="middle" fill="#000">15</text>
<text x="369.4" y="610.2" font-size="16.7" text-anchor="middle" fill="#000">Distance (nm)</text>
<text transform="translate(79.4 449.5) rotate(-90)" font-size="16.7" text-anchor="middle" fill="#000" textLength="96.4" lengthAdjust="spacing">Potential (V)</text>
<text x="185.3" y="369" font-size="13.7" text-anchor="middle" fill="#000" >SrRuO<tspan font-size="9.59" dy="3.151">3</tspan><tspan dy="-3.151">&#8203;</tspan></text>
<text x="286.8" y="369" font-size="13.7" text-anchor="middle" fill="#000" >LaAlO<tspan font-size="9.59" dy="3.151">3</tspan><tspan dy="-3.151">&#8203;</tspan></text>
<text x="393.6" y="369" font-size="13.7" text-anchor="middle" fill="#000" >SrTiO<tspan font-size="9.59" dy="3.151">3</tspan><tspan dy="-3.151">&#8203;</tspan></text>
<text x="479.3" y="369" font-size="13.7" text-anchor="middle" fill="#000" >LaAlO<tspan font-size="9.59" dy="3.151">3</tspan><tspan dy="-3.151">&#8203;</tspan></text>
<text x="551" y="369" font-size="13.7" text-anchor="middle" fill="#000" >Nb:SrTiO<tspan font-size="9.59" dy="3.151">3</tspan><tspan dy="-3.151">&#8203;</tspan></text>
<rect x="612.1" y="352.3" width="71.4" height="121.2" fill="#fff" stroke="#7a7a7a" stroke-width="0.9"/>
<path d="M620.1 362 H651.6" stroke="#0000ff" stroke-width="2.1" fill="none"/>
<text x="679.4" y="366.7" font-size="13.3" text-anchor="end" fill="#000">-3 V</text>
<path d="M620.1 379.1 H651.6" stroke="#8484ff" stroke-width="2.1" fill="none"/>
<text x="679.4" y="383.8" font-size="13.3" text-anchor="end" fill="#000">-2 V</text>
<path d="M620.1 396.5 H651.6" stroke="#c4c4ff" stroke-width="2.1" fill="none"/>
<text x="679.4" y="401.2" font-size="13.3" text-anchor="end" fill="#000">-1 V</text>
<path d="M620.1 413.3 H651.6" stroke="#000000" stroke-width="2.1" fill="none"/>
<text x="679.4" y="418" font-size="13.3" text-anchor="end" fill="#000">0 V</text>
<path d="M620.1 430.7 H651.6" stroke="#ffc8c8" stroke-width="2.1" fill="none"/>
<text x="679.4" y="435.4" font-size="13.3" text-anchor="end" fill="#000">1 V</text>
<path d="M620.1 448 H651.6" stroke="#ff8080" stroke-width="2.1" fill="none"/>
<text x="679.4" y="452.7" font-size="13.3" text-anchor="end" fill="#000">2 V</text>
<path d="M620.1 465.4 H651.6" stroke="#ff0000" stroke-width="2.1" fill="none"/>
<text x="679.4" y="470.1" font-size="13.3" text-anchor="end" fill="#000">3 V</text>
</svg>
</body></html>
